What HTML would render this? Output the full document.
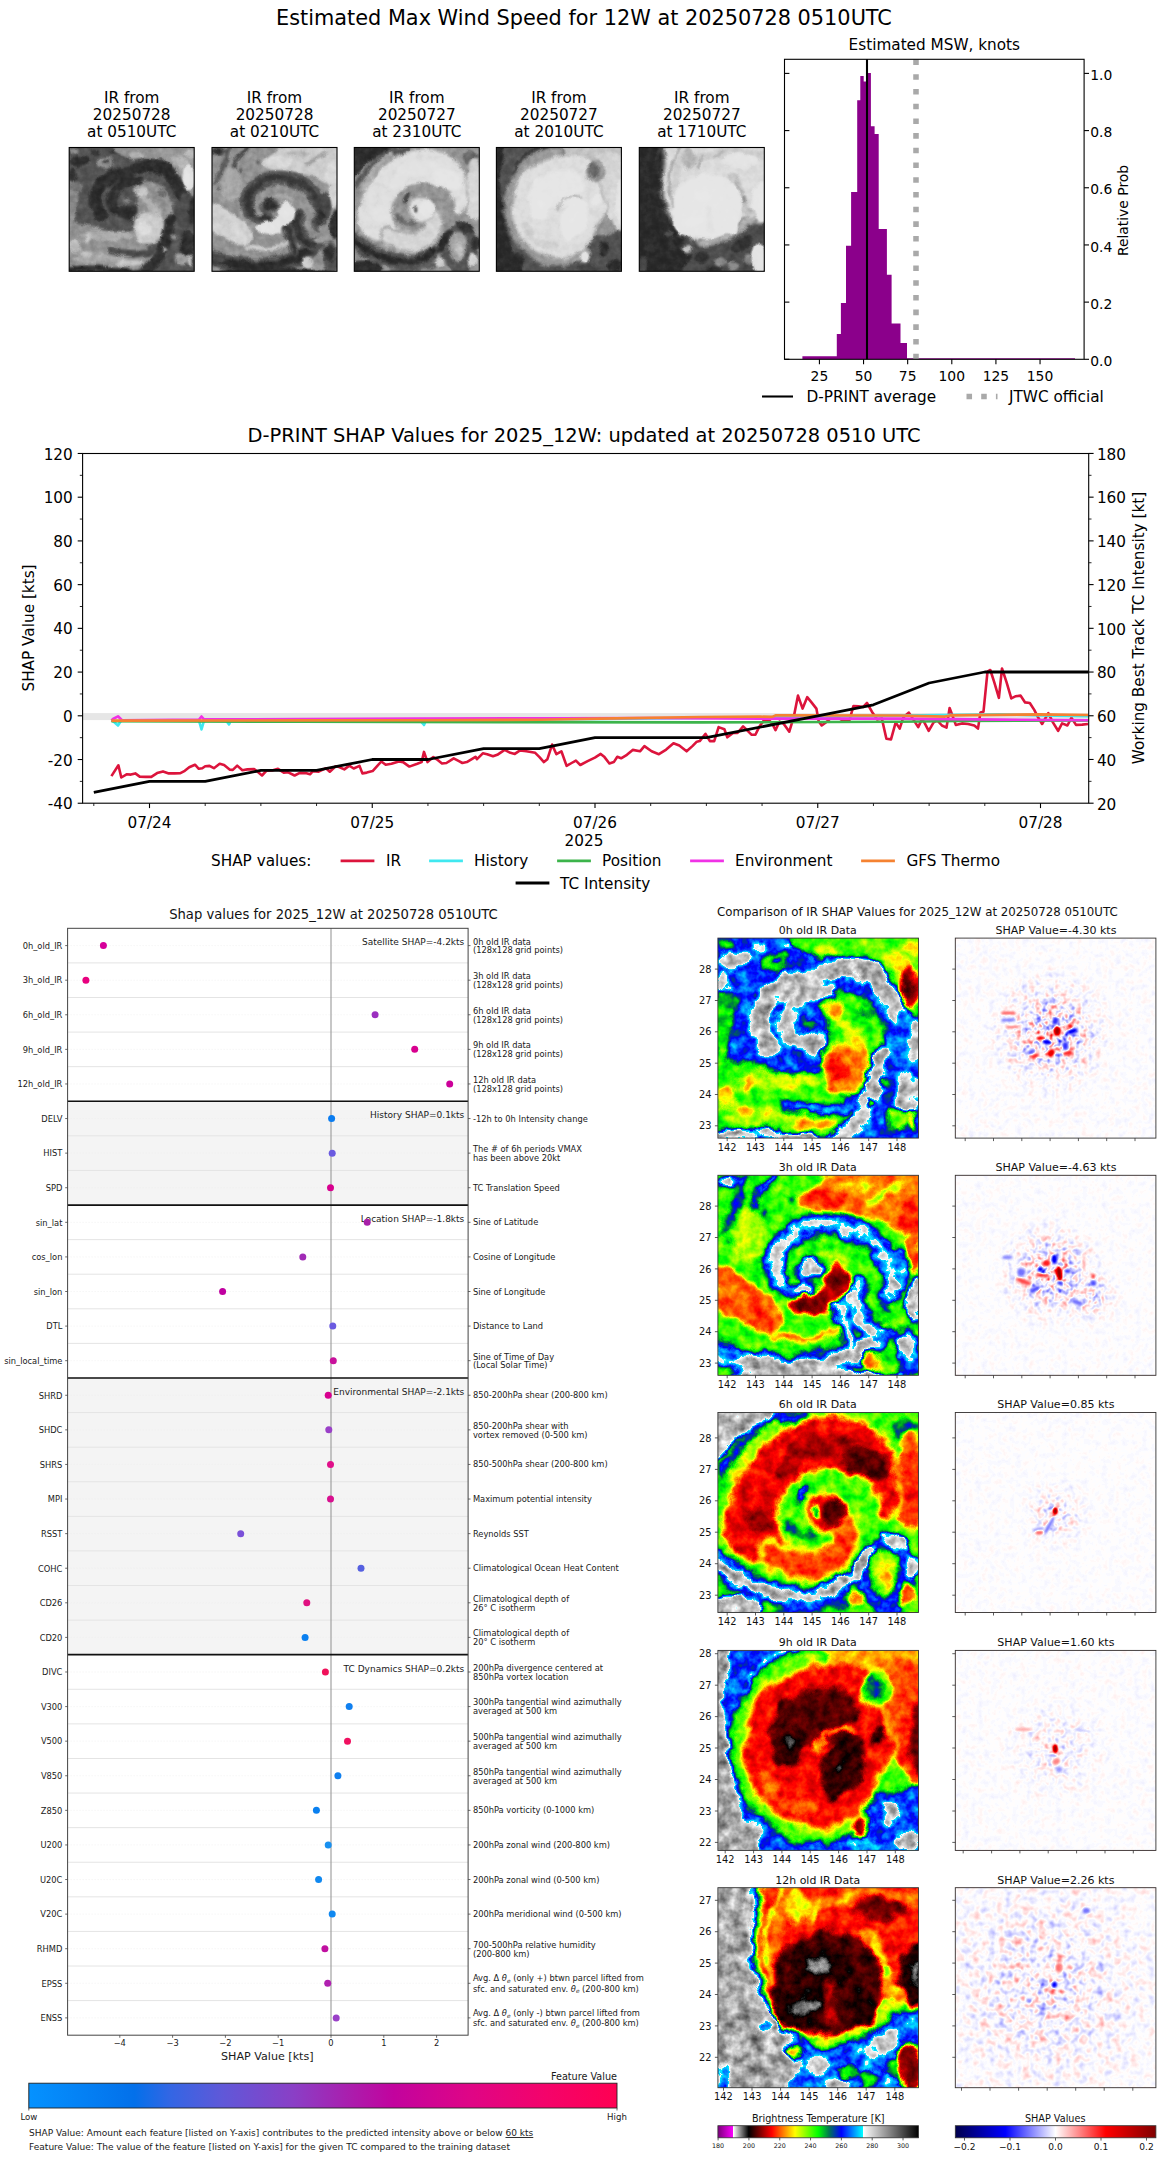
<!DOCTYPE html>
<html lang="en"><head><meta charset="utf-8"><title>D-PRINT 12W</title>
<style>
html,body{margin:0;padding:0;background:#fff}
body{width:1168px;height:2158px;overflow:hidden}
svg{display:block;font-family:"DejaVu Sans","Liberation Sans",sans-serif;fill:#000}
text{white-space:pre}
</style></head><body>
<svg width="1168" height="2158" viewBox="0 0 1168 2158">
<defs>
<clipPath id="c200"><rect x="0" y="0" width="200.6" height="200"/></clipPath>
<filter id="fi0" filterUnits="userSpaceOnUse" x="-12" y="-12" width="226" height="224" color-interpolation-filters="sRGB"><feGaussianBlur in="SourceGraphic" stdDeviation="2.0" result="b"/><feTurbulence type="fractalNoise" baseFrequency="0.05" numOctaves="3" seed="3" result="n"/><feDisplacementMap in="b" in2="n" scale="14" xChannelSelector="R" yChannelSelector="G" result="d"/><feTurbulence type="fractalNoise" baseFrequency="0.09" numOctaves="3" seed="10" result="n2"/><feColorMatrix in="n2" type="matrix" values="0 0 1 0 0 0 0 1 0 0 0 0 1 0 0 0 0 0 0 1" result="ng"/><feComposite in="d" in2="ng" operator="arithmetic" k1="0.27" k2="0.865" k3="0.03" k4="-0.015" result="m"/><feComponentTransfer in="m"><feFuncR type="table" tableValues="0.48 0.533 0.585 0.638 0.69 0.743 0.795 0.848 0.9 0.953 1 0.9 0.8 0.7 0.6 0.5 0.4 0.3 0.2 0.1 0 0.0667 0.133 0.2 0.267 0.333 0.4 0.467 0.533 0.6 0.667 0.733 0.8 0.867 0.933 1 1 1 1 1 1 1 1 1 1 1 1 1 1 1 1 0.923 0.846 0.769 0.692 0.615 0.538 0.462 0.385 0.308 0.231 0.154 0.0769 0 0 0 0 0 0 0 0 0 0 0 0 0 0 0 0 0 0 0 0 0 0 0 0 0 0 0 0 0 0 0 1 0.972 0.944 0.917 0.889 0.861 0.833 0.806 0.778 0.75 0.722 0.694 0.667 0.639 0.611 0.583 0.556 0.528 0.5 0.472 0.444 0.417 0.389 0.361 0.333 0.306 0.278 0.25 0.222 0.194 0.167 0.139 0.111 0.0833 0.0556 0.0278 0"/><feFuncG type="table" tableValues="0 0 0 0 0 0 0 0 0 0 1 0.9 0.8 0.7 0.6 0.5 0.4 0.3 0.2 0.1 0 0 0 0 0 0 0 0 0 0 0 0 0 0 0 0 0.0667 0.133 0.2 0.267 0.333 0.4 0.467 0.533 0.6 0.667 0.733 0.8 0.867 0.933 1 1 1 1 1 1 1 1 1 1 1 1 1 1 0.943 0.886 0.829 0.771 0.714 0.657 0.6 0.525 0.45 0.375 0.3 0.25 0.2 0.15 0.1 0.05 0 0.0719 0.144 0.216 0.288 0.36 0.432 0.504 0.576 0.647 0.719 0.791 0.863 0.935 1 0.972 0.944 0.917 0.889 0.861 0.833 0.806 0.778 0.75 0.722 0.694 0.667 0.639 0.611 0.583 0.556 0.528 0.5 0.472 0.444 0.417 0.389 0.361 0.333 0.306 0.278 0.25 0.222 0.194 0.167 0.139 0.111 0.0833 0.0556 0.0278 0"/><feFuncB type="table" tableValues="0.48 0.533 0.585 0.638 0.69 0.743 0.795 0.848 0.9 0.953 1 0.9 0.8 0.7 0.6 0.5 0.4 0.3 0.2 0.1 0 0 0 0 0 0 0 0 0 0 0 0 0 0 0 0 0 0 0 0 0 0 0 0 0 0 0 0 0 0 0 0 0 0 0 0 0 0 0 0 0 0 0 0 0.0214 0.0429 0.0643 0.0857 0.107 0.129 0.15 0.225 0.3 0.375 0.45 0.542 0.633 0.725 0.817 0.908 1 1 1 1 1 1 1 1 1 1 1 1 1 1 1 0.972 0.944 0.917 0.889 0.861 0.833 0.806 0.778 0.75 0.722 0.694 0.667 0.639 0.611 0.583 0.556 0.528 0.5 0.472 0.444 0.417 0.389 0.361 0.333 0.306 0.278 0.25 0.222 0.194 0.167 0.139 0.111 0.0833 0.0556 0.0278 0"/></feComponentTransfer></filter>
<filter id="fg0" filterUnits="userSpaceOnUse" x="-12" y="-12" width="226" height="224" color-interpolation-filters="sRGB"><feGaussianBlur in="SourceGraphic" stdDeviation="2.0" result="b"/><feTurbulence type="fractalNoise" baseFrequency="0.05" numOctaves="3" seed="3" result="n"/><feDisplacementMap in="b" in2="n" scale="10" xChannelSelector="R" yChannelSelector="G" result="d"/><feTurbulence type="fractalNoise" baseFrequency="0.09" numOctaves="3" seed="10" result="n2"/><feColorMatrix in="n2" type="matrix" values="0 0 1 0 0 0 0 1 0 0 0 0 1 0 0 0 0 0 0 1" result="ng"/><feComposite in="d" in2="ng" operator="arithmetic" k1="0.16" k2="0.92" k3="0.03" k4="-0.015" result="m"/><feComponentTransfer in="m"><feFuncR type="table" tableValues="0.925 0.924 0.922 0.92 0.918 0.915 0.912 0.91 0.907 0.905 0.902 0.895 0.889 0.882 0.869 0.846 0.823 0.798 0.767 0.737 0.706 0.675 0.643 0.612 0.58 0.549 0.518 0.486 0.455 0.429 0.403 0.376 0.35 0.326 0.308 0.29 0.271 0.253 0.235 0.22 0.205 0.19 0.175 0.16 0.152 0.145 0.139 0.132 0.125 0.12 0.114 0.108 0.102"/><feFuncG type="table" tableValues="0.925 0.924 0.922 0.92 0.918 0.915 0.912 0.91 0.907 0.905 0.902 0.895 0.889 0.882 0.869 0.846 0.823 0.798 0.767 0.737 0.706 0.675 0.643 0.612 0.58 0.549 0.518 0.486 0.455 0.429 0.403 0.376 0.35 0.326 0.308 0.29 0.271 0.253 0.235 0.22 0.205 0.19 0.175 0.16 0.152 0.145 0.139 0.132 0.125 0.12 0.114 0.108 0.102"/><feFuncB type="table" tableValues="0.925 0.924 0.922 0.92 0.918 0.915 0.912 0.91 0.907 0.905 0.902 0.895 0.889 0.882 0.869 0.846 0.823 0.798 0.767 0.737 0.706 0.675 0.643 0.612 0.58 0.549 0.518 0.486 0.455 0.429 0.403 0.376 0.35 0.326 0.308 0.29 0.271 0.253 0.235 0.22 0.205 0.19 0.175 0.16 0.152 0.145 0.139 0.132 0.125 0.12 0.114 0.108 0.102"/></feComponentTransfer></filter>
<filter id="fi1" filterUnits="userSpaceOnUse" x="-12" y="-12" width="226" height="224" color-interpolation-filters="sRGB"><feGaussianBlur in="SourceGraphic" stdDeviation="2.0" result="b"/><feTurbulence type="fractalNoise" baseFrequency="0.05" numOctaves="3" seed="8" result="n"/><feDisplacementMap in="b" in2="n" scale="14" xChannelSelector="R" yChannelSelector="G" result="d"/><feTurbulence type="fractalNoise" baseFrequency="0.09" numOctaves="3" seed="15" result="n2"/><feColorMatrix in="n2" type="matrix" values="0 0 1 0 0 0 0 1 0 0 0 0 1 0 0 0 0 0 0 1" result="ng"/><feComposite in="d" in2="ng" operator="arithmetic" k1="0.27" k2="0.865" k3="0.03" k4="-0.015" result="m"/><feComponentTransfer in="m"><feFuncR type="table" tableValues="0.48 0.533 0.585 0.638 0.69 0.743 0.795 0.848 0.9 0.953 1 0.9 0.8 0.7 0.6 0.5 0.4 0.3 0.2 0.1 0 0.0667 0.133 0.2 0.267 0.333 0.4 0.467 0.533 0.6 0.667 0.733 0.8 0.867 0.933 1 1 1 1 1 1 1 1 1 1 1 1 1 1 1 1 0.923 0.846 0.769 0.692 0.615 0.538 0.462 0.385 0.308 0.231 0.154 0.0769 0 0 0 0 0 0 0 0 0 0 0 0 0 0 0 0 0 0 0 0 0 0 0 0 0 0 0 0 0 0 0 1 0.972 0.944 0.917 0.889 0.861 0.833 0.806 0.778 0.75 0.722 0.694 0.667 0.639 0.611 0.583 0.556 0.528 0.5 0.472 0.444 0.417 0.389 0.361 0.333 0.306 0.278 0.25 0.222 0.194 0.167 0.139 0.111 0.0833 0.0556 0.0278 0"/><feFuncG type="table" tableValues="0 0 0 0 0 0 0 0 0 0 1 0.9 0.8 0.7 0.6 0.5 0.4 0.3 0.2 0.1 0 0 0 0 0 0 0 0 0 0 0 0 0 0 0 0 0.0667 0.133 0.2 0.267 0.333 0.4 0.467 0.533 0.6 0.667 0.733 0.8 0.867 0.933 1 1 1 1 1 1 1 1 1 1 1 1 1 1 0.943 0.886 0.829 0.771 0.714 0.657 0.6 0.525 0.45 0.375 0.3 0.25 0.2 0.15 0.1 0.05 0 0.0719 0.144 0.216 0.288 0.36 0.432 0.504 0.576 0.647 0.719 0.791 0.863 0.935 1 0.972 0.944 0.917 0.889 0.861 0.833 0.806 0.778 0.75 0.722 0.694 0.667 0.639 0.611 0.583 0.556 0.528 0.5 0.472 0.444 0.417 0.389 0.361 0.333 0.306 0.278 0.25 0.222 0.194 0.167 0.139 0.111 0.0833 0.0556 0.0278 0"/><feFuncB type="table" tableValues="0.48 0.533 0.585 0.638 0.69 0.743 0.795 0.848 0.9 0.953 1 0.9 0.8 0.7 0.6 0.5 0.4 0.3 0.2 0.1 0 0 0 0 0 0 0 0 0 0 0 0 0 0 0 0 0 0 0 0 0 0 0 0 0 0 0 0 0 0 0 0 0 0 0 0 0 0 0 0 0 0 0 0 0.0214 0.0429 0.0643 0.0857 0.107 0.129 0.15 0.225 0.3 0.375 0.45 0.542 0.633 0.725 0.817 0.908 1 1 1 1 1 1 1 1 1 1 1 1 1 1 1 0.972 0.944 0.917 0.889 0.861 0.833 0.806 0.778 0.75 0.722 0.694 0.667 0.639 0.611 0.583 0.556 0.528 0.5 0.472 0.444 0.417 0.389 0.361 0.333 0.306 0.278 0.25 0.222 0.194 0.167 0.139 0.111 0.0833 0.0556 0.0278 0"/></feComponentTransfer></filter>
<filter id="fg1" filterUnits="userSpaceOnUse" x="-12" y="-12" width="226" height="224" color-interpolation-filters="sRGB"><feGaussianBlur in="SourceGraphic" stdDeviation="2.0" result="b"/><feTurbulence type="fractalNoise" baseFrequency="0.05" numOctaves="3" seed="8" result="n"/><feDisplacementMap in="b" in2="n" scale="10" xChannelSelector="R" yChannelSelector="G" result="d"/><feTurbulence type="fractalNoise" baseFrequency="0.09" numOctaves="3" seed="15" result="n2"/><feColorMatrix in="n2" type="matrix" values="0 0 1 0 0 0 0 1 0 0 0 0 1 0 0 0 0 0 0 1" result="ng"/><feComposite in="d" in2="ng" operator="arithmetic" k1="0.16" k2="0.92" k3="0.03" k4="-0.015" result="m"/><feComponentTransfer in="m"><feFuncR type="table" tableValues="0.925 0.924 0.922 0.92 0.918 0.915 0.912 0.91 0.907 0.905 0.902 0.895 0.889 0.882 0.869 0.846 0.823 0.798 0.767 0.737 0.706 0.675 0.643 0.612 0.58 0.549 0.518 0.486 0.455 0.429 0.403 0.376 0.35 0.326 0.308 0.29 0.271 0.253 0.235 0.22 0.205 0.19 0.175 0.16 0.152 0.145 0.139 0.132 0.125 0.12 0.114 0.108 0.102"/><feFuncG type="table" tableValues="0.925 0.924 0.922 0.92 0.918 0.915 0.912 0.91 0.907 0.905 0.902 0.895 0.889 0.882 0.869 0.846 0.823 0.798 0.767 0.737 0.706 0.675 0.643 0.612 0.58 0.549 0.518 0.486 0.455 0.429 0.403 0.376 0.35 0.326 0.308 0.29 0.271 0.253 0.235 0.22 0.205 0.19 0.175 0.16 0.152 0.145 0.139 0.132 0.125 0.12 0.114 0.108 0.102"/><feFuncB type="table" tableValues="0.925 0.924 0.922 0.92 0.918 0.915 0.912 0.91 0.907 0.905 0.902 0.895 0.889 0.882 0.869 0.846 0.823 0.798 0.767 0.737 0.706 0.675 0.643 0.612 0.58 0.549 0.518 0.486 0.455 0.429 0.403 0.376 0.35 0.326 0.308 0.29 0.271 0.253 0.235 0.22 0.205 0.19 0.175 0.16 0.152 0.145 0.139 0.132 0.125 0.12 0.114 0.108 0.102"/></feComponentTransfer></filter>
<filter id="fi2" filterUnits="userSpaceOnUse" x="-12" y="-12" width="226" height="224" color-interpolation-filters="sRGB"><feGaussianBlur in="SourceGraphic" stdDeviation="2.0" result="b"/><feTurbulence type="fractalNoise" baseFrequency="0.05" numOctaves="3" seed="13" result="n"/><feDisplacementMap in="b" in2="n" scale="14" xChannelSelector="R" yChannelSelector="G" result="d"/><feTurbulence type="fractalNoise" baseFrequency="0.09" numOctaves="3" seed="20" result="n2"/><feColorMatrix in="n2" type="matrix" values="0 0 1 0 0 0 0 1 0 0 0 0 1 0 0 0 0 0 0 1" result="ng"/><feComposite in="d" in2="ng" operator="arithmetic" k1="0.27" k2="0.865" k3="0.03" k4="-0.015" result="m"/><feComponentTransfer in="m"><feFuncR type="table" tableValues="0.48 0.533 0.585 0.638 0.69 0.743 0.795 0.848 0.9 0.953 1 0.9 0.8 0.7 0.6 0.5 0.4 0.3 0.2 0.1 0 0.0667 0.133 0.2 0.267 0.333 0.4 0.467 0.533 0.6 0.667 0.733 0.8 0.867 0.933 1 1 1 1 1 1 1 1 1 1 1 1 1 1 1 1 0.923 0.846 0.769 0.692 0.615 0.538 0.462 0.385 0.308 0.231 0.154 0.0769 0 0 0 0 0 0 0 0 0 0 0 0 0 0 0 0 0 0 0 0 0 0 0 0 0 0 0 0 0 0 0 1 0.972 0.944 0.917 0.889 0.861 0.833 0.806 0.778 0.75 0.722 0.694 0.667 0.639 0.611 0.583 0.556 0.528 0.5 0.472 0.444 0.417 0.389 0.361 0.333 0.306 0.278 0.25 0.222 0.194 0.167 0.139 0.111 0.0833 0.0556 0.0278 0"/><feFuncG type="table" tableValues="0 0 0 0 0 0 0 0 0 0 1 0.9 0.8 0.7 0.6 0.5 0.4 0.3 0.2 0.1 0 0 0 0 0 0 0 0 0 0 0 0 0 0 0 0 0.0667 0.133 0.2 0.267 0.333 0.4 0.467 0.533 0.6 0.667 0.733 0.8 0.867 0.933 1 1 1 1 1 1 1 1 1 1 1 1 1 1 0.943 0.886 0.829 0.771 0.714 0.657 0.6 0.525 0.45 0.375 0.3 0.25 0.2 0.15 0.1 0.05 0 0.0719 0.144 0.216 0.288 0.36 0.432 0.504 0.576 0.647 0.719 0.791 0.863 0.935 1 0.972 0.944 0.917 0.889 0.861 0.833 0.806 0.778 0.75 0.722 0.694 0.667 0.639 0.611 0.583 0.556 0.528 0.5 0.472 0.444 0.417 0.389 0.361 0.333 0.306 0.278 0.25 0.222 0.194 0.167 0.139 0.111 0.0833 0.0556 0.0278 0"/><feFuncB type="table" tableValues="0.48 0.533 0.585 0.638 0.69 0.743 0.795 0.848 0.9 0.953 1 0.9 0.8 0.7 0.6 0.5 0.4 0.3 0.2 0.1 0 0 0 0 0 0 0 0 0 0 0 0 0 0 0 0 0 0 0 0 0 0 0 0 0 0 0 0 0 0 0 0 0 0 0 0 0 0 0 0 0 0 0 0 0.0214 0.0429 0.0643 0.0857 0.107 0.129 0.15 0.225 0.3 0.375 0.45 0.542 0.633 0.725 0.817 0.908 1 1 1 1 1 1 1 1 1 1 1 1 1 1 1 0.972 0.944 0.917 0.889 0.861 0.833 0.806 0.778 0.75 0.722 0.694 0.667 0.639 0.611 0.583 0.556 0.528 0.5 0.472 0.444 0.417 0.389 0.361 0.333 0.306 0.278 0.25 0.222 0.194 0.167 0.139 0.111 0.0833 0.0556 0.0278 0"/></feComponentTransfer></filter>
<filter id="fg2" filterUnits="userSpaceOnUse" x="-12" y="-12" width="226" height="224" color-interpolation-filters="sRGB"><feGaussianBlur in="SourceGraphic" stdDeviation="2.0" result="b"/><feTurbulence type="fractalNoise" baseFrequency="0.05" numOctaves="3" seed="13" result="n"/><feDisplacementMap in="b" in2="n" scale="10" xChannelSelector="R" yChannelSelector="G" result="d"/><feTurbulence type="fractalNoise" baseFrequency="0.09" numOctaves="3" seed="20" result="n2"/><feColorMatrix in="n2" type="matrix" values="0 0 1 0 0 0 0 1 0 0 0 0 1 0 0 0 0 0 0 1" result="ng"/><feComposite in="d" in2="ng" operator="arithmetic" k1="0.16" k2="0.92" k3="0.03" k4="-0.015" result="m"/><feComponentTransfer in="m"><feFuncR type="table" tableValues="0.925 0.924 0.922 0.92 0.918 0.915 0.912 0.91 0.907 0.905 0.902 0.895 0.889 0.882 0.869 0.846 0.823 0.798 0.767 0.737 0.706 0.675 0.643 0.612 0.58 0.549 0.518 0.486 0.455 0.429 0.403 0.376 0.35 0.326 0.308 0.29 0.271 0.253 0.235 0.22 0.205 0.19 0.175 0.16 0.152 0.145 0.139 0.132 0.125 0.12 0.114 0.108 0.102"/><feFuncG type="table" tableValues="0.925 0.924 0.922 0.92 0.918 0.915 0.912 0.91 0.907 0.905 0.902 0.895 0.889 0.882 0.869 0.846 0.823 0.798 0.767 0.737 0.706 0.675 0.643 0.612 0.58 0.549 0.518 0.486 0.455 0.429 0.403 0.376 0.35 0.326 0.308 0.29 0.271 0.253 0.235 0.22 0.205 0.19 0.175 0.16 0.152 0.145 0.139 0.132 0.125 0.12 0.114 0.108 0.102"/><feFuncB type="table" tableValues="0.925 0.924 0.922 0.92 0.918 0.915 0.912 0.91 0.907 0.905 0.902 0.895 0.889 0.882 0.869 0.846 0.823 0.798 0.767 0.737 0.706 0.675 0.643 0.612 0.58 0.549 0.518 0.486 0.455 0.429 0.403 0.376 0.35 0.326 0.308 0.29 0.271 0.253 0.235 0.22 0.205 0.19 0.175 0.16 0.152 0.145 0.139 0.132 0.125 0.12 0.114 0.108 0.102"/></feComponentTransfer></filter>
<filter id="fi3" filterUnits="userSpaceOnUse" x="-12" y="-12" width="226" height="224" color-interpolation-filters="sRGB"><feGaussianBlur in="SourceGraphic" stdDeviation="2.0" result="b"/><feTurbulence type="fractalNoise" baseFrequency="0.05" numOctaves="3" seed="18" result="n"/><feDisplacementMap in="b" in2="n" scale="14" xChannelSelector="R" yChannelSelector="G" result="d"/><feTurbulence type="fractalNoise" baseFrequency="0.09" numOctaves="3" seed="25" result="n2"/><feColorMatrix in="n2" type="matrix" values="0 0 1 0 0 0 0 1 0 0 0 0 1 0 0 0 0 0 0 1" result="ng"/><feComposite in="d" in2="ng" operator="arithmetic" k1="0.27" k2="0.865" k3="0.03" k4="-0.015" result="m"/><feComponentTransfer in="m"><feFuncR type="table" tableValues="0.48 0.533 0.585 0.638 0.69 0.743 0.795 0.848 0.9 0.953 1 0.9 0.8 0.7 0.6 0.5 0.4 0.3 0.2 0.1 0 0.0667 0.133 0.2 0.267 0.333 0.4 0.467 0.533 0.6 0.667 0.733 0.8 0.867 0.933 1 1 1 1 1 1 1 1 1 1 1 1 1 1 1 1 0.923 0.846 0.769 0.692 0.615 0.538 0.462 0.385 0.308 0.231 0.154 0.0769 0 0 0 0 0 0 0 0 0 0 0 0 0 0 0 0 0 0 0 0 0 0 0 0 0 0 0 0 0 0 0 1 0.972 0.944 0.917 0.889 0.861 0.833 0.806 0.778 0.75 0.722 0.694 0.667 0.639 0.611 0.583 0.556 0.528 0.5 0.472 0.444 0.417 0.389 0.361 0.333 0.306 0.278 0.25 0.222 0.194 0.167 0.139 0.111 0.0833 0.0556 0.0278 0"/><feFuncG type="table" tableValues="0 0 0 0 0 0 0 0 0 0 1 0.9 0.8 0.7 0.6 0.5 0.4 0.3 0.2 0.1 0 0 0 0 0 0 0 0 0 0 0 0 0 0 0 0 0.0667 0.133 0.2 0.267 0.333 0.4 0.467 0.533 0.6 0.667 0.733 0.8 0.867 0.933 1 1 1 1 1 1 1 1 1 1 1 1 1 1 0.943 0.886 0.829 0.771 0.714 0.657 0.6 0.525 0.45 0.375 0.3 0.25 0.2 0.15 0.1 0.05 0 0.0719 0.144 0.216 0.288 0.36 0.432 0.504 0.576 0.647 0.719 0.791 0.863 0.935 1 0.972 0.944 0.917 0.889 0.861 0.833 0.806 0.778 0.75 0.722 0.694 0.667 0.639 0.611 0.583 0.556 0.528 0.5 0.472 0.444 0.417 0.389 0.361 0.333 0.306 0.278 0.25 0.222 0.194 0.167 0.139 0.111 0.0833 0.0556 0.0278 0"/><feFuncB type="table" tableValues="0.48 0.533 0.585 0.638 0.69 0.743 0.795 0.848 0.9 0.953 1 0.9 0.8 0.7 0.6 0.5 0.4 0.3 0.2 0.1 0 0 0 0 0 0 0 0 0 0 0 0 0 0 0 0 0 0 0 0 0 0 0 0 0 0 0 0 0 0 0 0 0 0 0 0 0 0 0 0 0 0 0 0 0.0214 0.0429 0.0643 0.0857 0.107 0.129 0.15 0.225 0.3 0.375 0.45 0.542 0.633 0.725 0.817 0.908 1 1 1 1 1 1 1 1 1 1 1 1 1 1 1 0.972 0.944 0.917 0.889 0.861 0.833 0.806 0.778 0.75 0.722 0.694 0.667 0.639 0.611 0.583 0.556 0.528 0.5 0.472 0.444 0.417 0.389 0.361 0.333 0.306 0.278 0.25 0.222 0.194 0.167 0.139 0.111 0.0833 0.0556 0.0278 0"/></feComponentTransfer></filter>
<filter id="fg3" filterUnits="userSpaceOnUse" x="-12" y="-12" width="226" height="224" color-interpolation-filters="sRGB"><feGaussianBlur in="SourceGraphic" stdDeviation="2.0" result="b"/><feTurbulence type="fractalNoise" baseFrequency="0.05" numOctaves="3" seed="18" result="n"/><feDisplacementMap in="b" in2="n" scale="10" xChannelSelector="R" yChannelSelector="G" result="d"/><feTurbulence type="fractalNoise" baseFrequency="0.09" numOctaves="3" seed="25" result="n2"/><feColorMatrix in="n2" type="matrix" values="0 0 1 0 0 0 0 1 0 0 0 0 1 0 0 0 0 0 0 1" result="ng"/><feComposite in="d" in2="ng" operator="arithmetic" k1="0.16" k2="0.92" k3="0.03" k4="-0.015" result="m"/><feComponentTransfer in="m"><feFuncR type="table" tableValues="0.925 0.924 0.922 0.92 0.918 0.915 0.912 0.91 0.907 0.905 0.902 0.895 0.889 0.882 0.869 0.846 0.823 0.798 0.767 0.737 0.706 0.675 0.643 0.612 0.58 0.549 0.518 0.486 0.455 0.429 0.403 0.376 0.35 0.326 0.308 0.29 0.271 0.253 0.235 0.22 0.205 0.19 0.175 0.16 0.152 0.145 0.139 0.132 0.125 0.12 0.114 0.108 0.102"/><feFuncG type="table" tableValues="0.925 0.924 0.922 0.92 0.918 0.915 0.912 0.91 0.907 0.905 0.902 0.895 0.889 0.882 0.869 0.846 0.823 0.798 0.767 0.737 0.706 0.675 0.643 0.612 0.58 0.549 0.518 0.486 0.455 0.429 0.403 0.376 0.35 0.326 0.308 0.29 0.271 0.253 0.235 0.22 0.205 0.19 0.175 0.16 0.152 0.145 0.139 0.132 0.125 0.12 0.114 0.108 0.102"/><feFuncB type="table" tableValues="0.925 0.924 0.922 0.92 0.918 0.915 0.912 0.91 0.907 0.905 0.902 0.895 0.889 0.882 0.869 0.846 0.823 0.798 0.767 0.737 0.706 0.675 0.643 0.612 0.58 0.549 0.518 0.486 0.455 0.429 0.403 0.376 0.35 0.326 0.308 0.29 0.271 0.253 0.235 0.22 0.205 0.19 0.175 0.16 0.152 0.145 0.139 0.132 0.125 0.12 0.114 0.108 0.102"/></feComponentTransfer></filter>
<filter id="fi4" filterUnits="userSpaceOnUse" x="-12" y="-12" width="226" height="224" color-interpolation-filters="sRGB"><feGaussianBlur in="SourceGraphic" stdDeviation="2.0" result="b"/><feTurbulence type="fractalNoise" baseFrequency="0.05" numOctaves="3" seed="23" result="n"/><feDisplacementMap in="b" in2="n" scale="14" xChannelSelector="R" yChannelSelector="G" result="d"/><feTurbulence type="fractalNoise" baseFrequency="0.09" numOctaves="3" seed="30" result="n2"/><feColorMatrix in="n2" type="matrix" values="0 0 1 0 0 0 0 1 0 0 0 0 1 0 0 0 0 0 0 1" result="ng"/><feComposite in="d" in2="ng" operator="arithmetic" k1="0.27" k2="0.865" k3="0.03" k4="-0.015" result="m"/><feComponentTransfer in="m"><feFuncR type="table" tableValues="0.48 0.533 0.585 0.638 0.69 0.743 0.795 0.848 0.9 0.953 1 0.9 0.8 0.7 0.6 0.5 0.4 0.3 0.2 0.1 0 0.0667 0.133 0.2 0.267 0.333 0.4 0.467 0.533 0.6 0.667 0.733 0.8 0.867 0.933 1 1 1 1 1 1 1 1 1 1 1 1 1 1 1 1 0.923 0.846 0.769 0.692 0.615 0.538 0.462 0.385 0.308 0.231 0.154 0.0769 0 0 0 0 0 0 0 0 0 0 0 0 0 0 0 0 0 0 0 0 0 0 0 0 0 0 0 0 0 0 0 1 0.972 0.944 0.917 0.889 0.861 0.833 0.806 0.778 0.75 0.722 0.694 0.667 0.639 0.611 0.583 0.556 0.528 0.5 0.472 0.444 0.417 0.389 0.361 0.333 0.306 0.278 0.25 0.222 0.194 0.167 0.139 0.111 0.0833 0.0556 0.0278 0"/><feFuncG type="table" tableValues="0 0 0 0 0 0 0 0 0 0 1 0.9 0.8 0.7 0.6 0.5 0.4 0.3 0.2 0.1 0 0 0 0 0 0 0 0 0 0 0 0 0 0 0 0 0.0667 0.133 0.2 0.267 0.333 0.4 0.467 0.533 0.6 0.667 0.733 0.8 0.867 0.933 1 1 1 1 1 1 1 1 1 1 1 1 1 1 0.943 0.886 0.829 0.771 0.714 0.657 0.6 0.525 0.45 0.375 0.3 0.25 0.2 0.15 0.1 0.05 0 0.0719 0.144 0.216 0.288 0.36 0.432 0.504 0.576 0.647 0.719 0.791 0.863 0.935 1 0.972 0.944 0.917 0.889 0.861 0.833 0.806 0.778 0.75 0.722 0.694 0.667 0.639 0.611 0.583 0.556 0.528 0.5 0.472 0.444 0.417 0.389 0.361 0.333 0.306 0.278 0.25 0.222 0.194 0.167 0.139 0.111 0.0833 0.0556 0.0278 0"/><feFuncB type="table" tableValues="0.48 0.533 0.585 0.638 0.69 0.743 0.795 0.848 0.9 0.953 1 0.9 0.8 0.7 0.6 0.5 0.4 0.3 0.2 0.1 0 0 0 0 0 0 0 0 0 0 0 0 0 0 0 0 0 0 0 0 0 0 0 0 0 0 0 0 0 0 0 0 0 0 0 0 0 0 0 0 0 0 0 0 0.0214 0.0429 0.0643 0.0857 0.107 0.129 0.15 0.225 0.3 0.375 0.45 0.542 0.633 0.725 0.817 0.908 1 1 1 1 1 1 1 1 1 1 1 1 1 1 1 0.972 0.944 0.917 0.889 0.861 0.833 0.806 0.778 0.75 0.722 0.694 0.667 0.639 0.611 0.583 0.556 0.528 0.5 0.472 0.444 0.417 0.389 0.361 0.333 0.306 0.278 0.25 0.222 0.194 0.167 0.139 0.111 0.0833 0.0556 0.0278 0"/></feComponentTransfer></filter>
<filter id="fg4" filterUnits="userSpaceOnUse" x="-12" y="-12" width="226" height="224" color-interpolation-filters="sRGB"><feGaussianBlur in="SourceGraphic" stdDeviation="2.0" result="b"/><feTurbulence type="fractalNoise" baseFrequency="0.05" numOctaves="3" seed="23" result="n"/><feDisplacementMap in="b" in2="n" scale="10" xChannelSelector="R" yChannelSelector="G" result="d"/><feTurbulence type="fractalNoise" baseFrequency="0.09" numOctaves="3" seed="30" result="n2"/><feColorMatrix in="n2" type="matrix" values="0 0 1 0 0 0 0 1 0 0 0 0 1 0 0 0 0 0 0 1" result="ng"/><feComposite in="d" in2="ng" operator="arithmetic" k1="0.16" k2="0.92" k3="0.03" k4="-0.015" result="m"/><feComponentTransfer in="m"><feFuncR type="table" tableValues="0.925 0.924 0.922 0.92 0.918 0.915 0.912 0.91 0.907 0.905 0.902 0.895 0.889 0.882 0.869 0.846 0.823 0.798 0.767 0.737 0.706 0.675 0.643 0.612 0.58 0.549 0.518 0.486 0.455 0.429 0.403 0.376 0.35 0.326 0.308 0.29 0.271 0.253 0.235 0.22 0.205 0.19 0.175 0.16 0.152 0.145 0.139 0.132 0.125 0.12 0.114 0.108 0.102"/><feFuncG type="table" tableValues="0.925 0.924 0.922 0.92 0.918 0.915 0.912 0.91 0.907 0.905 0.902 0.895 0.889 0.882 0.869 0.846 0.823 0.798 0.767 0.737 0.706 0.675 0.643 0.612 0.58 0.549 0.518 0.486 0.455 0.429 0.403 0.376 0.35 0.326 0.308 0.29 0.271 0.253 0.235 0.22 0.205 0.19 0.175 0.16 0.152 0.145 0.139 0.132 0.125 0.12 0.114 0.108 0.102"/><feFuncB type="table" tableValues="0.925 0.924 0.922 0.92 0.918 0.915 0.912 0.91 0.907 0.905 0.902 0.895 0.889 0.882 0.869 0.846 0.823 0.798 0.767 0.737 0.706 0.675 0.643 0.612 0.58 0.549 0.518 0.486 0.455 0.429 0.403 0.376 0.35 0.326 0.308 0.29 0.271 0.253 0.235 0.22 0.205 0.19 0.175 0.16 0.152 0.145 0.139 0.132 0.125 0.12 0.114 0.108 0.102"/></feComponentTransfer></filter>
<g id="f0"><rect x="-30" y="-30" width="260" height="260" fill="#a1a1a1"/><ellipse cx="3.4" cy="89.0" rx="9.4" ry="34.2" fill="#7c7c7c"/><ellipse cx="12.0" cy="65.1" rx="10.3" ry="8.6" fill="#8b8b8b"/><ellipse cx="17.1" cy="22.3" rx="14.6" ry="8.6" fill="#cacaca"/><ellipse cx="6.0" cy="45.4" rx="6.0" ry="11.1" fill="#cacaca"/><ellipse cx="42.0" cy="6.0" rx="7.7" ry="4.3" fill="#c2c2c2"/><ellipse cx="71.9" cy="6.8" rx="6.8" ry="3.4" fill="#c0c0c0"/><ellipse cx="58.2" cy="25.7" rx="14.6" ry="10.6" fill="#7a7a7a"/><ellipse cx="59.9" cy="24.0" rx="6.8" ry="4.1" fill="#a1a1a1"/><ellipse cx="6.8" cy="5.1" rx="6.8" ry="5.1" fill="#7e7e7e"/><path d="M73.6,-3.4C85.0,-6.3 141.1,-5.7 154.1,-3.4C167.1,-1.1 154.4,6.5 151.5,10.3C148.7,14.0 142.3,18.3 137.0,19.2C131.7,20.1 125.6,15.8 119.9,15.8C114.2,15.8 108.4,19.5 102.7,19.2C97.0,18.9 90.5,17.8 85.6,14.0C80.8,10.3 62.2,-0.5 73.6,-3.4Z" fill="#767676"/><ellipse cx="107.9" cy="12.0" rx="12.8" ry="5.1" fill="#646464"/><path d="M149.0,-3.4C157.1,-7.8 194.6,-16.3 203.8,-3.4C212.9,9.4 206.3,62.1 203.8,73.6C201.2,85.2 193.8,70.9 188.4,65.9C182.9,60.9 176.8,50.8 171.2,43.7C165.7,36.5 158.7,31.0 155.0,23.1C151.3,15.3 140.8,1.0 149.0,-3.4Z" fill="#727272"/><ellipse cx="193.5" cy="10.3" rx="7.7" ry="7.7" fill="#5c5c5c"/><ellipse cx="171.2" cy="20.5" rx="10.3" ry="6.8" fill="#666666" transform="rotate(40 171.2 20.5)"/><ellipse cx="160.1" cy="32.5" rx="3.1" ry="5.1" fill="#4c4c4c" transform="rotate(-40 160.1 32.5)"/><ellipse cx="192.1" cy="47.9" rx="10.3" ry="19.7" fill="#3d3d3d"/><ellipse cx="189.7" cy="49.7" rx="4.5" ry="10.3" fill="#2f2f2f"/><ellipse cx="181.5" cy="25.7" rx="8.6" ry="10.3" fill="#606060"/><path d="M-3.4,118.2C0.0,106.3 9.4,121.3 17.1,123.3C24.8,125.3 33.1,128.1 42.8,130.1C52.5,132.2 65.4,136.0 75.3,135.6C85.3,135.2 97.9,139.3 102.7,127.6C107.6,115.8 101.9,76.8 104.5,65.1C107.0,53.4 112.4,58.6 118.2,57.4C123.9,56.1 132.6,55.5 138.7,57.4C144.8,59.2 150.6,63.2 155.0,68.5C159.3,73.8 162.4,82.2 164.7,89.0C167.0,95.9 169.4,102.6 168.7,109.6C167.9,116.6 163.5,124.0 160.1,131.0C156.7,138.0 154.3,146.7 148.1,151.5C142.0,156.4 126.3,156.8 123.3,160.1C120.3,163.4 128.4,165.5 130.1,171.2C131.8,176.9 155.8,190.5 133.6,194.3C111.3,198.2 19.4,207.0 -3.4,194.3C-26.3,181.6 -6.8,130.0 -3.4,118.2Z" fill="#767676"/><ellipse cx="59.9" cy="142.1" rx="44.5" ry="7.2" fill="#666666"/><ellipse cx="30.0" cy="145.5" rx="4.3" ry="9.4" fill="#5a5a5a" transform="rotate(20 30.0 145.5)"/><ellipse cx="8.6" cy="161.0" rx="9.4" ry="10.3" fill="#5c5c5c"/><ellipse cx="51.4" cy="179.8" rx="42.8" ry="6.8" fill="#686868"/><ellipse cx="98.5" cy="186.6" rx="22.3" ry="4.8" fill="#585858"/><ellipse cx="27.4" cy="171.2" rx="10.3" ry="5.1" fill="#5e5e5e"/><ellipse cx="118.2" cy="71.9" rx="10.6" ry="8.6" fill="#565656"/><path d="M119.9,82.2 L142.1,104.5" fill="none" stroke="#646464" stroke-width="10.3" stroke-linecap="round" stroke-linejoin="round"/><ellipse cx="127.1" cy="128.8" rx="24.0" ry="26.0" fill="#545454" transform="rotate(15 127.1 128.8)"/><ellipse cx="119.9" cy="131.0" rx="12.3" ry="10.6" fill="#454545"/><ellipse cx="149.0" cy="73.6" rx="4.8" ry="6.5" fill="#979797"/><ellipse cx="165.2" cy="85.6" rx="5.1" ry="3.1" fill="#999999"/><ellipse cx="169.5" cy="99.3" rx="4.8" ry="3.1" fill="#999999"/><path d="M66.8,165.2C69.9,166.2 76.8,170.2 85.6,171.2C94.5,172.2 108.3,172.9 119.9,171.2C131.4,169.5 149.1,162.7 155.0,161.0" fill="none" stroke="#a7a7a7" stroke-width="9.9" stroke-linecap="round" stroke-linejoin="round"/><path d="M51.4,109.6C49.9,105.0 42.8,90.5 42.8,82.2C42.8,73.9 45.7,66.2 51.4,59.9C57.1,53.7 68.5,48.4 77.1,44.5C85.6,40.7 94.2,39.2 102.7,36.8C111.3,34.4 120.4,30.5 128.4,30.0C136.4,29.4 144.1,30.1 150.7,33.4C157.2,36.7 163.2,43.2 167.8,49.7C172.4,56.1 174.7,65.4 178.1,71.9C181.5,78.5 185.2,82.8 188.4,89.0C191.5,95.3 195.5,106.2 196.9,109.6" fill="none" stroke="#cacaca" stroke-width="20.9" stroke-linecap="round" stroke-linejoin="round"/><path d="M95.9,109.6C92.8,108.4 81.8,106.7 77.1,102.7C72.3,98.7 67.9,91.3 67.6,85.6C67.4,79.9 71.2,73.3 75.3,68.5C79.5,63.6 86.5,59.4 92.5,56.5C98.5,53.7 108.2,52.2 111.3,51.4" fill="none" stroke="#cacaca" stroke-width="17.8" stroke-linecap="round" stroke-linejoin="round"/><ellipse cx="95.0" cy="101.0" rx="14.6" ry="12.0" fill="#cacaca"/><path d="M51.4,102.7C50.5,99.0 45.7,87.0 46.2,80.5C46.8,73.9 53.4,66.2 54.8,63.4" fill="none" stroke="#d6d6d6" stroke-width="6.8" stroke-linecap="round" stroke-linejoin="round"/><path d="M119.9,34.2C124.4,34.7 139.8,34.0 147.3,36.8C154.7,39.7 161.5,48.9 164.4,51.4" fill="none" stroke="#d4d4d4" stroke-width="6.8" stroke-linecap="round" stroke-linejoin="round"/><path d="M59.1,104.5C58.1,100.7 52.9,88.8 53.1,82.2C53.2,75.6 55.9,69.6 59.9,65.1C63.9,60.5 74.2,56.5 77.1,54.8" fill="none" stroke="#a9a9a9" stroke-width="2.1" stroke-linecap="round" stroke-linejoin="round"/><path d="M73.6,95.9C73.3,93.3 70.8,85.0 71.9,80.5C73.1,75.9 79.1,70.5 80.5,68.5" fill="none" stroke="#adadad" stroke-width="1.7" stroke-linecap="round" stroke-linejoin="round"/><ellipse cx="95.9" cy="83.9" rx="12.8" ry="11.1" fill="#a1a1a1"/><ellipse cx="92.5" cy="85.6" rx="5.1" ry="4.3" fill="#818181"/><path d="M106.2,45.9C109.0,45.7 118.2,44.1 123.3,44.9C128.4,45.7 133.3,48.5 137.0,50.7C140.7,52.9 144.1,57.0 145.5,58.2" fill="none" stroke="#9f9f9f" stroke-width="5.1" stroke-linecap="round" stroke-linejoin="round"/><path d="M-3.4,196.9C2.9,196.6 22.8,195.2 34.2,195.2C45.7,195.2 54.8,196.1 65.1,196.9C75.3,197.7 90.8,199.5 95.9,200.0" fill="none" stroke="#cecece" stroke-width="8.6" stroke-linecap="round" stroke-linejoin="round"/><ellipse cx="186.6" cy="102.7" rx="15.4" ry="29.1" fill="#a9a9a9"/><ellipse cx="197.3" cy="102.7" rx="5.1" ry="22.3" fill="#cacaca"/><path d="M162.7,116.4C162.1,119.9 160.7,130.7 159.2,137.0C157.8,143.3 156.4,148.1 154.1,154.1C151.8,160.1 149.5,166.7 145.5,172.9C141.6,179.2 134.7,186.6 130.1,191.8C125.6,196.9 120.1,201.8 118.2,203.8" fill="none" stroke="#cacaca" stroke-width="17.1" stroke-linecap="round" stroke-linejoin="round"/><ellipse cx="190.1" cy="155.8" rx="11.1" ry="21.4" fill="#cacaca"/><ellipse cx="167.8" cy="144.7" rx="5.5" ry="4.3" fill="#767676"/><ellipse cx="153.3" cy="164.4" rx="4.5" ry="5.1" fill="#727272"/><ellipse cx="179.8" cy="180.7" rx="8.9" ry="7.9" fill="#6e6e6e"/><ellipse cx="192.6" cy="183.2" rx="4.3" ry="7.2" fill="#585858"/><ellipse cx="174.7" cy="195.2" rx="15.4" ry="6.0" fill="#a1a1a1"/></g>
<g id="ir0" clip-path="url(#c200)"><use href="#f0" filter="url(#fi0)"/></g>
<g id="th0"><g transform="scale(0.6232,0.619)" clip-path="url(#c200)"><use href="#f0" filter="url(#fg0)"/></g></g>
<g id="f1"><rect x="-30" y="-30" width="260" height="260" fill="#767676"/><ellipse cx="10.3" cy="6.8" rx="12.0" ry="6.8" fill="#a9a9a9"/><ellipse cx="9.4" cy="6.5" rx="8.6" ry="4.5" fill="#cacaca"/><path d="M29.1,0.0C27.7,4.3 24.5,16.3 20.5,25.7C16.6,35.1 7.7,51.4 5.1,56.5" fill="none" stroke="#999999" stroke-width="7.7" stroke-linecap="round" stroke-linejoin="round"/><path d="M56.5,0.0C53.4,3.7 41.4,16.6 37.7,22.3C34.0,28.0 34.8,32.2 34.2,34.2" fill="none" stroke="#999999" stroke-width="7.2" stroke-linecap="round" stroke-linejoin="round"/><path d="M56.5,0.0C53.4,3.7 41.4,16.6 37.7,22.3C34.0,28.0 34.8,32.2 34.2,34.2" fill="none" stroke="#b8b8b8" stroke-width="2.1" stroke-linecap="round" stroke-linejoin="round"/><ellipse cx="73.6" cy="23.1" rx="2.7" ry="3.1" fill="#999999"/><ellipse cx="43.7" cy="36.8" rx="2.7" ry="3.4" fill="#999999"/><ellipse cx="11.1" cy="66.8" rx="2.4" ry="3.8" fill="#999999"/><ellipse cx="30.8" cy="59.9" rx="17.1" ry="27.4" fill="#6a6a6a"/><path d="M80.5,22.3C81.6,18.3 89.3,14.6 95.9,10.3C102.5,6.0 101.9,-1.1 119.9,-3.4C137.8,-5.7 189.8,-15.4 203.8,-3.4C217.8,8.6 206.9,58.2 203.8,68.5C200.6,78.8 193.2,62.2 184.9,58.2C176.7,54.2 165.0,47.7 154.1,44.5C143.3,41.4 130.7,41.1 119.9,39.4C109.0,37.7 95.6,37.1 89.0,34.2C82.5,31.4 79.3,26.3 80.5,22.3Z" fill="#525252"/><ellipse cx="106.2" cy="22.3" rx="20.5" ry="9.4" fill="#494949"/><ellipse cx="193.5" cy="42.8" rx="10.3" ry="22.3" fill="#494949"/><ellipse cx="137.0" cy="8.6" rx="18.8" ry="5.1" fill="#626262"/><path d="M154.1,25.7 L181.5,10.3" fill="none" stroke="#6e6e6e" stroke-width="6.0" stroke-linecap="round" stroke-linejoin="round"/><ellipse cx="195.2" cy="77.1" rx="8.6" ry="20.5" fill="#4c4c4c"/><path d="M-3.4,92.5C0.6,87.3 12.0,95.3 20.5,99.3C29.1,103.3 40.8,110.2 47.9,116.4C55.1,122.7 61.4,130.7 63.4,137.0C65.4,143.3 64.8,151.3 59.9,154.1C55.1,157.0 42.5,156.4 34.2,154.1C26.0,151.8 16.6,144.4 10.3,140.4C4.0,136.4 -1.1,138.1 -3.4,130.1C-5.7,122.1 -7.4,97.6 -3.4,92.5Z" fill="#505050"/><ellipse cx="39.4" cy="137.0" rx="18.8" ry="8.6" fill="#4b4b4b" transform="rotate(40 39.4 137.0)"/><path d="M56.5,161.0C61.4,161.6 76.8,164.7 85.6,164.7C94.5,164.7 103.3,163.3 109.6,161.0C115.9,158.6 121.0,152.4 123.3,150.7" fill="none" stroke="#565656" stroke-width="7.7" stroke-linecap="round" stroke-linejoin="round"/><path d="M-3.4,178.1C1.4,179.4 15.1,183.5 25.7,185.8C36.2,188.1 47.7,191.1 59.9,191.8C72.2,192.5 85.9,192.6 99.3,190.1C112.7,187.5 129.0,181.8 140.4,176.4C151.8,170.9 163.2,160.7 167.8,157.5" fill="none" stroke="#a5a5a5" stroke-width="25.7" stroke-linecap="round" stroke-linejoin="round"/><path d="M-3.4,178.1C1.4,179.4 15.1,183.5 25.7,185.8C36.2,188.1 47.7,191.1 59.9,191.8C72.2,192.5 85.9,192.6 99.3,190.1C112.7,187.5 129.0,181.8 140.4,176.4C151.8,170.9 163.2,160.7 167.8,157.5" fill="none" stroke="#d0d0d0" stroke-width="13.4" stroke-linecap="round" stroke-linejoin="round"/><ellipse cx="99.3" cy="202.1" rx="85.6" ry="7.7" fill="#cccccc"/><ellipse cx="10.3" cy="179.8" rx="12.0" ry="7.7" fill="#adadad"/><path d="M89.0,115.1C85.0,113.6 70.5,111.1 65.1,106.2C59.6,101.3 55.9,92.8 56.5,85.6C57.1,78.5 61.9,69.3 68.5,63.4C75.1,57.4 86.2,51.7 95.9,49.7C105.6,47.7 117.6,49.1 126.7,51.4C135.8,53.7 143.8,58.5 150.7,63.4C157.5,68.2 163.5,73.9 167.8,80.5C172.1,87.0 175.8,95.6 176.4,102.7C176.9,109.9 172.1,119.9 171.2,123.3" fill="none" stroke="#a1a1a1" stroke-width="23.1" stroke-linecap="round" stroke-linejoin="round"/><path d="M89.0,115.1C85.0,113.6 70.5,111.1 65.1,106.2C59.6,101.3 55.9,92.8 56.5,85.6C57.1,78.5 61.9,69.3 68.5,63.4C75.1,57.4 86.2,51.7 95.9,49.7C105.6,47.7 117.6,49.1 126.7,51.4C135.8,53.7 143.8,58.5 150.7,63.4C157.5,68.2 163.5,73.9 167.8,80.5C172.1,87.0 175.8,95.6 176.4,102.7C176.9,109.9 172.1,119.9 171.2,123.3" fill="none" stroke="#c0c0c0" stroke-width="9.6" stroke-linecap="round" stroke-linejoin="round"/><path d="M75.3,106.5C75.1,103.6 71.6,94.5 73.6,89.0C75.6,83.6 81.1,76.8 87.3,74.0C93.6,71.1 103.6,70.5 111.3,71.9C119.0,73.3 127.9,78.2 133.6,82.2C139.3,86.2 143.6,93.6 145.5,95.9" fill="none" stroke="#767676" stroke-width="11.3" stroke-linecap="round" stroke-linejoin="round"/><path d="M102.7,75.7 L126.7,80.8" fill="none" stroke="#666666" stroke-width="4.3" stroke-linecap="round" stroke-linejoin="round"/><ellipse cx="93.3" cy="93.3" rx="13.4" ry="12.3" fill="#a9a9a9"/><ellipse cx="92.5" cy="92.5" rx="8.6" ry="8.2" fill="#cecece"/><path d="M77.1,95.9C77.9,97.7 79.1,104.2 82.2,106.5C85.3,108.8 93.6,109.4 95.9,109.9" fill="none" stroke="#a1a1a1" stroke-width="3.8" stroke-linecap="round" stroke-linejoin="round"/><path d="M137.0,109.6C136.7,113.0 133.6,123.6 135.3,130.1C137.0,136.7 142.4,144.1 147.3,149.0C152.1,153.8 161.5,157.5 164.4,159.2" fill="none" stroke="#a5a5a5" stroke-width="21.4" stroke-linecap="round" stroke-linejoin="round"/><path d="M137.0,109.6C136.7,113.0 133.6,123.6 135.3,130.1C137.0,136.7 142.4,144.1 147.3,149.0C152.1,153.8 161.5,157.5 164.4,159.2" fill="none" stroke="#c6c6c6" stroke-width="8.9" stroke-linecap="round" stroke-linejoin="round"/><path d="M119.9,127.1C121.0,130.4 124.7,139.9 126.7,147.3C128.7,154.6 131.0,167.2 131.8,171.2" fill="none" stroke="#a9a9a9" stroke-width="13.7" stroke-linecap="round" stroke-linejoin="round"/><path d="M119.9,127.1C121.0,130.4 124.7,139.9 126.7,147.3C128.7,154.6 131.0,167.2 131.8,171.2" fill="none" stroke="#c4c4c4" stroke-width="5.1" stroke-linecap="round" stroke-linejoin="round"/><ellipse cx="178.1" cy="95.9" rx="12.0" ry="22.3" fill="#adadad"/><ellipse cx="174.7" cy="109.6" rx="6.0" ry="10.3" fill="#cccccc"/><ellipse cx="179.8" cy="130.1" rx="9.4" ry="7.7" fill="#767676"/><ellipse cx="172.9" cy="150.7" rx="7.7" ry="6.0" fill="#6e6e6e"/><ellipse cx="153.3" cy="185.8" rx="8.9" ry="10.6" fill="#525252"/><ellipse cx="197.3" cy="125.0" rx="6.0" ry="24.0" fill="#cccccc"/><ellipse cx="190.1" cy="178.1" rx="12.0" ry="25.7" fill="#a5a5a5"/><ellipse cx="188.4" cy="171.2" rx="6.5" ry="13.7" fill="#c8c8c8"/><path d="M71.1,126.7C72.8,124.1 80.1,122.1 85.6,119.9C91.2,117.6 100.2,117.9 104.5,113.0C108.7,108.2 108.2,95.0 111.3,90.8C114.4,86.5 119.7,85.3 123.3,87.3C126.9,89.3 131.6,97.3 132.7,102.7C133.8,108.2 133.3,115.7 130.1,119.9C127.0,124.0 117.3,124.7 113.9,127.6C110.4,130.4 113.7,134.8 109.6,137.0C105.5,139.2 94.7,141.0 89.0,140.8C83.3,140.5 78.3,137.6 75.3,135.3C72.3,132.9 69.3,129.3 71.1,126.7Z" fill="#3b3b3b"/><ellipse cx="89.0" cy="128.8" rx="12.3" ry="6.8" fill="#313131"/><ellipse cx="119.9" cy="102.7" rx="6.8" ry="10.3" fill="#353535"/></g>
<g id="ir1" clip-path="url(#c200)"><use href="#f1" filter="url(#fi1)"/></g>
<g id="th1"><g transform="scale(0.6232,0.619)" clip-path="url(#c200)"><use href="#f1" filter="url(#fg1)"/></g></g>
<g id="f2"><rect x="-30" y="-30" width="260" height="260" fill="#767676"/><path d="M-3.4,-3.4C7.1,-12.0 55.7,-8.0 59.9,-3.4C64.2,1.1 32.8,15.4 22.3,24.0C11.7,32.5 0.9,52.5 -3.4,47.9C-7.7,43.4 -14.0,5.1 -3.4,-3.4Z" fill="#cecece"/><path d="M65.1,0.0C59.1,4.6 39.1,17.1 29.1,27.4C19.1,37.7 9.1,55.9 5.1,61.6" fill="none" stroke="#9d9d9d" stroke-width="8.6" stroke-linecap="round" stroke-linejoin="round"/><path d="M85.6,0.0 L56.5,12.0" fill="none" stroke="#a1a1a1" stroke-width="7.7" stroke-linecap="round" stroke-linejoin="round"/><path d="M59.9,10.3C54.8,14.8 36.5,27.4 29.1,37.7C21.7,47.9 17.7,66.2 15.4,71.9" fill="none" stroke="#686868" stroke-width="8.6" stroke-linecap="round" stroke-linejoin="round"/><ellipse cx="193.5" cy="75.3" rx="14.6" ry="42.0" fill="#494949"/><ellipse cx="184.9" cy="15.4" rx="12.0" ry="12.0" fill="#919191"/><ellipse cx="193.5" cy="30.8" rx="8.6" ry="13.7" fill="#525252"/><path d="M-3.4,147.3C1.7,151.0 15.4,163.5 27.4,169.5C39.4,175.5 54.8,181.4 68.5,183.2C82.2,185.1 100.0,183.6 109.6,180.7C119.1,177.7 123.1,167.8 125.9,165.2" fill="none" stroke="#a1a1a1" stroke-width="24.0" stroke-linecap="round" stroke-linejoin="round"/><path d="M-3.4,147.3C1.7,151.0 15.4,163.5 27.4,169.5C39.4,175.5 54.8,181.4 68.5,183.2C82.2,185.1 100.0,183.6 109.6,180.7C119.1,177.7 123.1,167.8 125.9,165.2" fill="none" stroke="#d0d0d0" stroke-width="10.3" stroke-linecap="round" stroke-linejoin="round"/><ellipse cx="15.4" cy="195.2" rx="30.0" ry="12.0" fill="#cecece"/><path d="M59.9,199.5C66.5,199.1 87.6,198.8 99.3,196.9C111.0,195.1 125.0,189.8 130.1,188.4" fill="none" stroke="#999999" stroke-width="7.7" stroke-linecap="round" stroke-linejoin="round"/><ellipse cx="169.5" cy="164.4" rx="30.0" ry="40.2" fill="#a1a1a1"/><ellipse cx="145.5" cy="150.7" rx="7.7" ry="21.4" fill="#cecece" transform="rotate(30 145.5 150.7)"/><ellipse cx="179.8" cy="130.1" rx="17.1" ry="7.2" fill="#c0c0c0" transform="rotate(30 179.8 130.1)"/><ellipse cx="166.1" cy="159.2" rx="13.7" ry="24.8" fill="#6e6e6e"/><ellipse cx="167.8" cy="164.4" rx="6.8" ry="10.3" fill="#5a5a5a"/><ellipse cx="137.0" cy="184.9" rx="6.0" ry="6.8" fill="#4e4e4e"/><ellipse cx="190.1" cy="181.5" rx="6.8" ry="12.0" fill="#4b4b4b"/><ellipse cx="195.2" cy="155.0" rx="7.7" ry="9.4" fill="#c4c4c4"/><path d="M6.0,109.6C6.0,97.3 13.6,81.3 20.5,68.5C27.5,55.7 38.0,42.1 47.9,32.5C57.9,23.0 68.5,16.0 80.5,11.1C92.5,6.3 107.9,2.7 119.9,3.4C131.8,4.1 143.3,9.4 152.4,15.4C161.5,21.4 170.2,30.5 174.7,39.4C179.1,48.2 178.4,59.1 178.9,68.5C179.5,77.9 180.5,89.6 178.1,95.9C175.7,102.2 167.5,108.7 164.4,106.2C161.2,103.6 162.4,87.2 159.2,80.5C156.1,73.8 152.1,69.8 145.5,65.9C139.0,62.1 128.1,58.5 119.9,57.4C111.6,56.2 103.6,57.1 95.9,59.1C88.2,61.1 79.5,64.4 73.6,69.3C67.8,74.3 63.2,82.0 60.8,89.0C58.4,96.0 57.2,104.0 59.1,111.3C60.9,118.6 66.9,128.4 71.9,132.7C76.9,137.0 87.3,133.7 89.0,137.0C90.8,140.3 88.5,150.1 82.2,152.4C75.9,154.7 61.6,152.4 51.4,150.7C41.1,149.0 28.1,149.0 20.5,142.1C13.0,135.3 6.0,121.9 6.0,109.6Z" fill="#646464" stroke="#646464" stroke-width="6.8" stroke-linejoin="round"/><path d="M6.0,109.6C6.0,97.3 13.6,81.3 20.5,68.5C27.5,55.7 38.0,42.1 47.9,32.5C57.9,23.0 68.5,16.0 80.5,11.1C92.5,6.3 107.9,2.7 119.9,3.4C131.8,4.1 143.3,9.4 152.4,15.4C161.5,21.4 170.2,30.5 174.7,39.4C179.1,48.2 178.4,59.1 178.9,68.5C179.5,77.9 180.5,89.6 178.1,95.9C175.7,102.2 167.5,108.7 164.4,106.2C161.2,103.6 162.4,87.2 159.2,80.5C156.1,73.8 152.1,69.8 145.5,65.9C139.0,62.1 128.1,58.5 119.9,57.4C111.6,56.2 103.6,57.1 95.9,59.1C88.2,61.1 79.5,64.4 73.6,69.3C67.8,74.3 63.2,82.0 60.8,89.0C58.4,96.0 57.2,104.0 59.1,111.3C60.9,118.6 66.9,128.4 71.9,132.7C76.9,137.0 87.3,133.7 89.0,137.0C90.8,140.3 88.5,150.1 82.2,152.4C75.9,154.7 61.6,152.4 51.4,150.7C41.1,149.0 28.1,149.0 20.5,142.1C13.0,135.3 6.0,121.9 6.0,109.6Z" fill="#434343"/><ellipse cx="150.7" cy="51.4" rx="25.7" ry="15.8" fill="#313131" transform="rotate(30 150.7 51.4)"/><ellipse cx="42.8" cy="106.2" rx="15.4" ry="12.0" fill="#393939"/><ellipse cx="102.7" cy="34.2" rx="34.2" ry="12.0" fill="#3b3b3b" transform="rotate(-5 102.7 34.2)"/><ellipse cx="71.9" cy="51.4" rx="20.5" ry="10.3" fill="#3b3b3b" transform="rotate(-40 71.9 51.4)"/><path d="M56.5,143.8C63.1,145.7 85.3,155.7 95.9,155.0C106.4,154.3 114.6,146.0 119.9,139.6C125.1,133.1 126.3,120.3 127.6,116.4" fill="none" stroke="#666666" stroke-width="33.4" stroke-linecap="round" stroke-linejoin="round"/><path d="M56.5,143.8C63.1,145.7 85.3,155.7 95.9,155.0C106.4,154.3 114.6,146.0 119.9,139.6C125.1,133.1 126.3,120.3 127.6,116.4" fill="none" stroke="#4c4c4c" stroke-width="24.0" stroke-linecap="round" stroke-linejoin="round"/><path d="M69.3,106.5C69.8,102.7 68.1,90.7 71.9,83.9C75.8,77.1 83.6,68.9 92.5,65.9C101.3,62.9 115.9,61.9 125.0,65.9C134.1,69.9 143.4,80.9 147.3,89.9C151.1,98.9 148.0,114.9 148.1,119.9" fill="none" stroke="#767676" stroke-width="11.3" stroke-linecap="round" stroke-linejoin="round"/><ellipse cx="83.4" cy="81.3" rx="3.8" ry="9.4" fill="#b8b8b8" transform="rotate(25 83.4 81.3)"/><path d="M68.5,109.9C70.8,112.0 76.8,120.8 82.2,122.4C87.6,124.1 97.9,120.3 101.0,119.9" fill="none" stroke="#8d8d8d" stroke-width="7.7" stroke-linecap="round" stroke-linejoin="round"/><ellipse cx="107.0" cy="100.2" rx="22.3" ry="21.4" fill="#626262"/><ellipse cx="107.9" cy="100.2" rx="18.0" ry="18.0" fill="#414141"/><ellipse cx="116.4" cy="100.2" rx="10.6" ry="13.7" fill="#313131"/><ellipse cx="98.5" cy="99.3" rx="3.1" ry="4.3" fill="#9d9d9d"/></g>
<g id="ir2" clip-path="url(#c200)"><use href="#f2" filter="url(#fi2)"/></g>
<g id="th2"><g transform="scale(0.6232,0.619)" clip-path="url(#c200)"><use href="#f2" filter="url(#fg2)"/></g></g>
<g id="f3"><rect x="-30" y="-30" width="260" height="260" fill="#a3a3a3"/><path d="M-3.4,-3.4C-0.9,-38.0 10.4,-14.0 12.0,-3.4C13.6,7.1 6.0,39.4 6.0,59.9C6.0,80.5 8.7,103.3 12.0,119.9C15.3,136.4 20.7,145.3 25.7,159.2C30.7,173.2 46.8,196.3 42.0,203.8C37.1,211.2 4.1,238.3 -3.4,203.8C-11.0,169.2 -6.0,31.1 -3.4,-3.4Z" fill="#d2d2d2"/><ellipse cx="20.5" cy="184.9" rx="24.8" ry="16.3" fill="#d0d0d0"/><path d="M24.0,71.9C25.7,65.4 28.3,43.2 34.2,32.5C40.2,21.8 50.9,13.4 59.9,7.7C68.9,2.0 83.5,-0.1 88.2,-1.7" fill="none" stroke="#c2c2c2" stroke-width="10.3" stroke-linecap="round" stroke-linejoin="round"/><path d="M10.3,39.4 L22.3,10.3" fill="none" stroke="#a1a1a1" stroke-width="6.0" stroke-linecap="round" stroke-linejoin="round"/><ellipse cx="166.1" cy="125.9" rx="25.7" ry="18.0" fill="#767676"/><ellipse cx="172.9" cy="165.2" rx="7.7" ry="12.0" fill="#cecece"/><ellipse cx="190.1" cy="190.1" rx="12.0" ry="10.3" fill="#cccccc"/><ellipse cx="149.8" cy="195.2" rx="19.7" ry="6.0" fill="#b1b1b1"/><path d="M89.9,-3.4C107.2,-7.3 184.8,-10.7 203.8,-3.4C222.7,3.9 212.8,35.5 203.8,40.2C194.8,44.9 167.1,28.3 149.8,24.8C132.6,21.4 110.2,24.4 100.2,19.7C90.2,15.0 72.6,0.4 89.9,-3.4Z" fill="#585858"/><path d="M159.2,17.1C165.1,7.4 196.3,1.1 203.8,17.1C211.2,33.1 207.8,97.3 203.8,113.0C199.8,128.7 185.6,117.6 179.8,111.3C173.9,105.0 172.1,91.0 168.7,75.3C165.2,59.6 153.4,26.8 159.2,17.1Z" fill="#4e4e4e"/><ellipse cx="197.8" cy="84.8" rx="16.3" ry="47.9" fill="#494949"/><ellipse cx="200.3" cy="88.2" rx="7.7" ry="36.0" fill="#333333"/><path d="M100.2,7.7C93.8,9.4 72.3,11.8 61.6,18.0C50.9,24.1 42.5,33.4 36.0,44.5C29.4,55.7 24.0,71.9 22.3,84.8C20.5,97.6 22.4,110.3 25.7,121.6C29.0,132.8 34.2,143.1 42.0,152.4C49.7,161.7 61.6,171.9 71.9,177.2C82.2,182.5 94.6,184.9 103.6,184.1C112.6,183.2 122.1,174.1 125.9,172.1" fill="none" stroke="#898989" stroke-width="20.2" stroke-linecap="round" stroke-linejoin="round"/><path d="M100.2,7.7C93.8,9.4 72.3,11.8 61.6,18.0C50.9,24.1 42.5,33.4 36.0,44.5C29.4,55.7 24.0,71.9 22.3,84.8C20.5,97.6 22.4,110.3 25.7,121.6C29.0,132.8 34.2,143.1 42.0,152.4C49.7,161.7 61.6,171.9 71.9,177.2C82.2,182.5 94.6,184.9 103.6,184.1C112.6,183.2 122.1,174.1 125.9,172.1" fill="none" stroke="#727272" stroke-width="13.0" stroke-linecap="round" stroke-linejoin="round"/><ellipse cx="125.0" cy="172.1" rx="28.3" ry="13.7" fill="#6e6e6e"/><path d="M95.0,18.0C110.7,13.8 128.4,11.7 139.6,15.4C150.7,19.1 157.1,30.3 161.8,40.2C166.5,50.2 165.4,65.4 167.8,75.3C170.2,85.3 177.7,92.5 176.4,100.2C175.1,107.9 164.5,113.3 160.1,121.6C155.7,129.9 156.5,141.0 149.8,149.8C143.1,158.7 131.6,170.9 119.9,174.7C108.2,178.4 92.0,176.2 79.6,172.1C67.2,168.0 53.7,159.4 45.4,149.8C37.1,140.3 32.5,127.1 30.0,114.7C27.4,102.3 27.4,87.8 30.0,75.3C32.5,62.9 34.5,49.8 45.4,40.2C56.2,30.7 79.3,22.1 95.0,18.0Z" fill="#5e5e5e" stroke="#5e5e5e" stroke-width="7.7" stroke-linejoin="round"/><path d="M95.0,18.0C110.7,13.8 128.4,11.7 139.6,15.4C150.7,19.1 157.1,30.3 161.8,40.2C166.5,50.2 165.4,65.4 167.8,75.3C170.2,85.3 177.7,92.5 176.4,100.2C175.1,107.9 164.5,113.3 160.1,121.6C155.7,129.9 156.5,141.0 149.8,149.8C143.1,158.7 131.6,170.9 119.9,174.7C108.2,178.4 92.0,176.2 79.6,172.1C67.2,168.0 53.7,159.4 45.4,149.8C37.1,140.3 32.5,127.1 30.0,114.7C27.4,102.3 27.4,87.8 30.0,75.3C32.5,62.9 34.5,49.8 45.4,40.2C56.2,30.7 79.3,22.1 95.0,18.0Z" fill="#454545"/><ellipse cx="160.1" cy="37.7" rx="15.1" ry="18.8" fill="#727272"/><ellipse cx="156.7" cy="36.0" rx="7.7" ry="12.0" fill="#919191"/><ellipse cx="95.0" cy="68.5" rx="46.2" ry="28.3" fill="#313131" transform="rotate(-20 95.0 68.5)"/><ellipse cx="70.2" cy="95.0" rx="15.1" ry="22.3" fill="#2d2d2d"/><ellipse cx="125.0" cy="114.7" rx="19.7" ry="34.2" fill="#2d2d2d" transform="rotate(15 125.0 114.7)"/><ellipse cx="160.1" cy="84.8" rx="9.9" ry="8.0" fill="#2d2d2d"/><ellipse cx="70.2" cy="89.9" rx="3.9" ry="6.0" fill="#212121"/><ellipse cx="121.9" cy="118.2" rx="3.1" ry="3.9" fill="#212121"/><path d="M97.9,102.4C98.9,99.9 99.9,91.5 103.6,87.7C107.2,83.8 114.4,80.3 119.9,79.3C125.4,78.3 133.8,81.4 136.6,81.8" fill="none" stroke="#686868" stroke-width="3.8" stroke-linecap="round" stroke-linejoin="round"/><path d="M45.4,125.0C48.1,129.1 53.4,143.7 61.6,149.8C69.9,156.0 89.5,159.8 95.0,161.8" fill="none" stroke="#505050" stroke-width="12.0" stroke-linecap="round" stroke-linejoin="round"/><ellipse cx="142.1" cy="178.1" rx="6.0" ry="8.0" fill="#373737"/></g>
<g id="ir3" clip-path="url(#c200)"><use href="#f3" filter="url(#fi3)"/></g>
<g id="th3"><g transform="scale(0.6232,0.619)" clip-path="url(#c200)"><use href="#f3" filter="url(#fg3)"/></g></g>
<g id="f4"><rect x="-30" y="-30" width="260" height="260" fill="#d2d2d2"/><path d="M10.3,17.1C11.1,25.7 15.4,51.4 15.4,68.5C15.4,85.6 11.1,111.3 10.3,119.9" fill="none" stroke="#c8c8c8" stroke-width="5.1" stroke-linecap="round" stroke-linejoin="round"/><path d="M34.2,85.6C36.0,94.2 40.8,122.7 44.5,137.0C48.2,151.3 54.5,165.5 56.5,171.2" fill="none" stroke="#c8c8c8" stroke-width="5.1" stroke-linecap="round" stroke-linejoin="round"/><ellipse cx="17.1" cy="162.7" rx="10.3" ry="6.8" fill="#c6c6c6"/><path d="M31.7,0.0 L25.7,18.8" fill="none" stroke="#a9a9a9" stroke-width="2.6" stroke-linecap="round" stroke-linejoin="round"/><ellipse cx="47.1" cy="141.3" rx="7.7" ry="3.8" fill="#a7a7a7"/><ellipse cx="5.1" cy="190.1" rx="7.7" ry="13.7" fill="#adadad"/><path d="M70.2,149.8C74.3,145.7 94.6,154.0 109.6,149.8C124.6,145.7 144.4,133.3 160.1,125.0C175.8,116.7 196.5,87.0 203.8,100.2C211.0,113.3 225.2,186.5 203.8,203.8C182.4,221.0 95.2,208.6 75.3,203.8C55.5,198.9 85.6,183.6 84.8,174.7C83.9,165.7 66.1,154.0 70.2,149.8Z" fill="#a9a9a9"/><ellipse cx="165.2" cy="155.0" rx="18.0" ry="9.9" fill="#c4c4c4" transform="rotate(-30 165.2 155.0)"/><ellipse cx="100.2" cy="178.1" rx="12.0" ry="8.0" fill="#c8c8c8"/><ellipse cx="119.9" cy="197.8" rx="12.0" ry="6.0" fill="#c4c4c4"/><ellipse cx="130.1" cy="184.9" rx="9.9" ry="8.0" fill="#7c7c7c"/><ellipse cx="149.8" cy="191.8" rx="9.9" ry="8.0" fill="#7c7c7c"/><ellipse cx="174.7" cy="179.8" rx="8.0" ry="8.0" fill="#7e7e7e"/><ellipse cx="192.6" cy="179.8" rx="12.0" ry="25.7" fill="#373737"/><path d="M58.2,-7.7C30.9,-1.4 46.9,17.0 44.0,30.0C41.2,43.0 40.1,57.7 41.1,70.2C42.1,82.7 45.1,94.1 50.0,105.0C54.9,115.8 61.8,127.8 70.2,135.3C78.6,142.8 88.5,148.7 100.2,149.8C111.8,151.0 128.1,147.1 140.1,142.1C152.1,137.1 160.8,125.6 172.1,119.9C183.4,114.2 202.1,129.1 208.0,107.9C214.0,86.6 233.0,11.6 208.0,-7.7C183.1,-27.0 85.6,-14.0 58.2,-7.7Z" fill="#a1a1a1" stroke="#a1a1a1" stroke-width="16.3" stroke-linejoin="round"/><path d="M58.2,-7.7C30.9,-1.4 46.9,17.0 44.0,30.0C41.2,43.0 40.1,57.7 41.1,70.2C42.1,82.7 45.1,94.1 50.0,105.0C54.9,115.8 61.8,127.8 70.2,135.3C78.6,142.8 88.5,148.7 100.2,149.8C111.8,151.0 128.1,147.1 140.1,142.1C152.1,137.1 160.8,125.6 172.1,119.9C183.4,114.2 202.1,129.1 208.0,107.9C214.0,86.6 233.0,11.6 208.0,-7.7C183.1,-27.0 85.6,-14.0 58.2,-7.7Z" fill="#767676" stroke="#767676" stroke-width="8.9" stroke-linejoin="round"/><path d="M58.2,-7.7C30.9,-1.4 46.9,17.0 44.0,30.0C41.2,43.0 40.1,57.7 41.1,70.2C42.1,82.7 45.1,94.1 50.0,105.0C54.9,115.8 61.8,127.8 70.2,135.3C78.6,142.8 88.5,148.7 100.2,149.8C111.8,151.0 128.1,147.1 140.1,142.1C152.1,137.1 160.8,125.6 172.1,119.9C183.4,114.2 202.1,129.1 208.0,107.9C214.0,86.6 233.0,11.6 208.0,-7.7C183.1,-27.0 85.6,-14.0 58.2,-7.7Z" fill="#5e5e5e" stroke="#5e5e5e" stroke-width="2.1" stroke-linejoin="round"/><path d="M58.2,-7.7C30.9,-1.4 46.9,17.0 44.0,30.0C41.2,43.0 40.1,57.7 41.1,70.2C42.1,82.7 45.1,94.1 50.0,105.0C54.9,115.8 61.8,127.8 70.2,135.3C78.6,142.8 88.5,148.7 100.2,149.8C111.8,151.0 128.1,147.1 140.1,142.1C152.1,137.1 160.8,125.6 172.1,119.9C183.4,114.2 202.1,129.1 208.0,107.9C214.0,86.6 233.0,11.6 208.0,-7.7C183.1,-27.0 85.6,-14.0 58.2,-7.7Z" fill="#474747"/><path d="M68.5,-7.7C65.8,-1.4 55.4,17.0 52.2,30.0C49.0,43.0 48.5,58.1 49.3,70.2C50.2,82.3 52.9,92.8 57.4,102.7C61.8,112.7 68.6,123.3 76.2,130.1C83.8,136.9 98.3,141.3 102.7,143.5" fill="none" stroke="#666666" stroke-width="6.2" stroke-linecap="round" stroke-linejoin="round"/><path d="M80.5,-7.7C77.6,-1.4 66.5,17.0 63.0,30.0C59.5,43.0 59.0,58.5 59.6,70.2C60.2,81.9 62.4,91.0 66.4,100.2C70.4,109.3 77.2,119.1 83.6,125.0C90.0,130.9 101.3,133.8 104.8,135.6" fill="none" stroke="#525252" stroke-width="10.6" stroke-linecap="round" stroke-linejoin="round"/><ellipse cx="80.5" cy="18.8" rx="10.3" ry="17.1" fill="#626262"/><path d="M100.2,152.7C106.8,151.2 127.4,149.1 140.1,143.5C152.7,137.9 166.8,125.5 176.0,119.0C185.2,112.5 192.0,106.9 195.2,104.5" fill="none" stroke="#767676" stroke-width="17.1" stroke-linecap="round" stroke-linejoin="round"/><path d="M100.2,152.7C106.8,151.2 127.4,149.1 140.1,143.5C152.7,137.9 166.8,125.5 176.0,119.0C185.2,112.5 192.0,106.9 195.2,104.5" fill="none" stroke="#646464" stroke-width="8.6" stroke-linecap="round" stroke-linejoin="round"/><path d="M95.9,17.1C102.7,15.6 119.6,8.6 137.0,7.7C154.3,6.8 189.5,11.3 200.0,12.0" fill="none" stroke="#525252" stroke-width="16.3" stroke-linecap="round" stroke-linejoin="round"/><path d="M92.5,32.5 L102.7,12.0" fill="none" stroke="#646464" stroke-width="5.1" stroke-linecap="round" stroke-linejoin="round"/><path d="M119.9,15.4 L137.0,5.1" fill="none" stroke="#626262" stroke-width="3.8" stroke-linecap="round" stroke-linejoin="round"/><ellipse cx="162.7" cy="20.5" rx="27.4" ry="10.6" fill="#353535"/><path d="M149.8,49.7C152.4,55.5 160.9,75.3 165.2,84.8C169.6,94.2 174.2,102.6 176.0,106.2" fill="none" stroke="#565656" stroke-width="17.1" stroke-linecap="round" stroke-linejoin="round"/><path d="M154.1,56.5C156.2,61.4 163.2,77.9 167.0,85.6C170.7,93.3 174.8,99.9 176.4,102.7" fill="none" stroke="#646464" stroke-width="5.1" stroke-linecap="round" stroke-linejoin="round"/><ellipse cx="167.8" cy="84.8" rx="3.9" ry="6.0" fill="#767676"/><ellipse cx="109.6" cy="94.2" rx="55.7" ry="51.4" fill="#2f2f2f"/><ellipse cx="101.0" cy="80.0" rx="32.5" ry="22.3" fill="#2b2b2b" transform="rotate(15 101.0 80.0)"/><ellipse cx="85.6" cy="119.9" rx="31.7" ry="20.5" fill="#2b2b2b" transform="rotate(-15 85.6 119.9)"/><ellipse cx="146.1" cy="119.9" rx="11.1" ry="23.1" fill="#2b2b2b" transform="rotate(-10 146.1 119.9)"/><ellipse cx="102.7" cy="79.6" rx="15.1" ry="6.2" fill="#1d1d1d" transform="rotate(15 102.7 79.6)"/><ellipse cx="88.0" cy="119.0" rx="16.8" ry="7.9" fill="#1d1d1d" transform="rotate(-15 88.0 119.0)"/><path d="M112.0,98.5 L115.9,135.3" fill="none" stroke="#3d3d3d" stroke-width="8.0" stroke-linecap="round" stroke-linejoin="round"/><ellipse cx="196.9" cy="87.3" rx="14.6" ry="31.7" fill="#2b2b2b"/><ellipse cx="198.1" cy="85.6" rx="4.8" ry="14.6" fill="#1d1d1d"/><ellipse cx="78.9" cy="164.0" rx="9.9" ry="9.9" fill="#a1a1a1"/><ellipse cx="78.9" cy="164.0" rx="6.0" ry="6.0" fill="#565656"/></g>
<g id="ir4" clip-path="url(#c200)"><use href="#f4" filter="url(#fi4)"/></g>
<g id="th4"><g transform="scale(0.6232,0.619)" clip-path="url(#c200)"><use href="#f4" filter="url(#fg4)"/></g></g>
<filter id="seis" filterUnits="userSpaceOnUse" x="0" y="0" width="201" height="200" color-interpolation-filters="sRGB"><feComponentTransfer><feFuncR type="table" tableValues="0 0 0 0 0 0 0 0 0 0 0 0.1 0.2 0.3 0.4 0.5 0.6 0.7 0.8 0.9 1 1 1 1 1 1 1 1 1 1 1 0.95 0.9 0.85 0.8 0.75 0.7 0.65 0.6 0.55 0.5"/><feFuncG type="table" tableValues="0 0 0 0 0 0 0 0 0 0 0 0.1 0.2 0.3 0.4 0.5 0.6 0.7 0.8 0.9 1 0.9 0.8 0.7 0.6 0.5 0.4 0.3 0.2 0.1 0 0 0 0 0 0 0 0 0 0 0"/><feFuncB type="table" tableValues="0.3 0.37 0.44 0.51 0.58 0.65 0.72 0.79 0.86 0.93 1 1 1 1 1 1 1 1 1 1 1 0.9 0.8 0.7 0.6 0.5 0.4 0.3 0.2 0.1 0 0 0 0 0 0 0 0 0 0 0"/></feComponentTransfer></filter><filter id="sbl" filterUnits="userSpaceOnUse" x="0" y="0" width="201" height="200" color-interpolation-filters="sRGB"><feGaussianBlur stdDeviation="0.9"/></filter><filter id="fn0" filterUnits="userSpaceOnUse" x="0" y="0" width="201" height="200" color-interpolation-filters="sRGB"><feTurbulence type="fractalNoise" baseFrequency="0.15" numOctaves="2" seed="4" result="n"/><feColorMatrix in="n" type="matrix" values="1 0 0 0 0 1 0 0 0 0 1 0 0 0 0 0 0 0 0 1" result="ng"/><feComposite in="SourceGraphic" in2="ng" operator="arithmetic" k1="1" k2="-0.5" k3="0" k4="0.503" result="m"/><feComponentTransfer in="m"><feFuncR type="table" tableValues="0.000 0.032 0.064 0.095 0.126 0.156 0.186 0.214 0.243 0.270 0.297 0.323 0.348 0.372 0.395 0.418 0.438 0.458 0.475 0.490 0.500 0.510 0.525 0.542 0.562 0.582 0.605 0.628 0.652 0.677 0.703 0.730 0.757 0.786 0.814 0.844 0.874 0.905 0.936 0.968 1.000"/><feFuncG type="table" tableValues="0.000 0.032 0.064 0.095 0.126 0.156 0.186 0.214 0.243 0.270 0.297 0.323 0.348 0.372 0.395 0.418 0.438 0.458 0.475 0.490 0.500 0.510 0.525 0.542 0.562 0.582 0.605 0.628 0.652 0.677 0.703 0.730 0.757 0.786 0.814 0.844 0.874 0.905 0.936 0.968 1.000"/><feFuncB type="table" tableValues="0.000 0.032 0.064 0.095 0.126 0.156 0.186 0.214 0.243 0.270 0.297 0.323 0.348 0.372 0.395 0.418 0.438 0.458 0.475 0.490 0.500 0.510 0.525 0.542 0.562 0.582 0.605 0.628 0.652 0.677 0.703 0.730 0.757 0.786 0.814 0.844 0.874 0.905 0.936 0.968 1.000"/></feComponentTransfer></filter><radialGradient id="ev0_0" gradientUnits="userSpaceOnUse" cx="95" cy="95" r="68"><stop offset="0" stop-color="#fff" stop-opacity="1.15"/><stop offset="0.3" stop-color="#fff" stop-opacity="0.69"/><stop offset="0.65" stop-color="#fff" stop-opacity="0.22999999999999998"/><stop offset="1" stop-color="#fff" stop-opacity="0"/></radialGradient><g id="sh0" clip-path="url(#c200)"><g filter="url(#seis)"><g filter="url(#fn0)"><rect width="201" height="200" fill="rgb(26,26,26)"/><circle cx="95" cy="95" r="68" fill="url(#ev0_0)"/></g><g filter="url(#sbl)"><ellipse cx="102" cy="93" rx="3.2" ry="4.5" fill="rgb(235,235,235)" transform="rotate(10 102 93)"/><ellipse cx="117" cy="93" rx="5" ry="2.2" fill="rgb(56,56,56)" transform="rotate(-20 117 93)"/><ellipse cx="92" cy="104" rx="5" ry="2" fill="rgb(56,56,56)" transform="rotate(10 92 104)"/><ellipse cx="86" cy="100" rx="5" ry="1.6" fill="rgb(204,204,204)"/><ellipse cx="96" cy="115" rx="3" ry="4" fill="rgb(204,204,204)" transform="rotate(30 96 115)"/><ellipse cx="53" cy="75" rx="8" ry="1.5" fill="rgb(173,173,173)"/><ellipse cx="53" cy="82" rx="8" ry="1.5" fill="rgb(92,92,92)"/><ellipse cx="57" cy="89" rx="7" ry="1.4" fill="rgb(168,168,168)"/><ellipse cx="100" cy="83" rx="3" ry="4" fill="rgb(76,76,76)" transform="rotate(20 100 83)"/><ellipse cx="110" cy="108" rx="3" ry="4" fill="rgb(76,76,76)"/><ellipse cx="112" cy="115" rx="5" ry="2" fill="rgb(184,184,184)" transform="rotate(-10 112 115)"/><ellipse cx="80" cy="118" rx="4" ry="2" fill="rgb(184,184,184)" transform="rotate(-30 80 118)"/><ellipse cx="76" cy="114" rx="4" ry="2" fill="rgb(84,84,84)" transform="rotate(-30 76 114)"/><ellipse cx="115" cy="88" rx="2.5" ry="2" fill="rgb(191,191,191)"/></g></g></g><filter id="fn1" filterUnits="userSpaceOnUse" x="0" y="0" width="201" height="200" color-interpolation-filters="sRGB"><feTurbulence type="fractalNoise" baseFrequency="0.15" numOctaves="2" seed="9" result="n"/><feColorMatrix in="n" type="matrix" values="1 0 0 0 0 1 0 0 0 0 1 0 0 0 0 0 0 0 0 1" result="ng"/><feComposite in="SourceGraphic" in2="ng" operator="arithmetic" k1="1" k2="-0.5" k3="0" k4="0.503" result="m"/><feComponentTransfer in="m"><feFuncR type="table" tableValues="0.000 0.032 0.064 0.095 0.126 0.156 0.186 0.214 0.243 0.270 0.297 0.323 0.348 0.372 0.395 0.418 0.438 0.458 0.475 0.490 0.500 0.510 0.525 0.542 0.562 0.582 0.605 0.628 0.652 0.677 0.703 0.730 0.757 0.786 0.814 0.844 0.874 0.905 0.936 0.968 1.000"/><feFuncG type="table" tableValues="0.000 0.032 0.064 0.095 0.126 0.156 0.186 0.214 0.243 0.270 0.297 0.323 0.348 0.372 0.395 0.418 0.438 0.458 0.475 0.490 0.500 0.510 0.525 0.542 0.562 0.582 0.605 0.628 0.652 0.677 0.703 0.730 0.757 0.786 0.814 0.844 0.874 0.905 0.936 0.968 1.000"/><feFuncB type="table" tableValues="0.000 0.032 0.064 0.095 0.126 0.156 0.186 0.214 0.243 0.270 0.297 0.323 0.348 0.372 0.395 0.418 0.438 0.458 0.475 0.490 0.500 0.510 0.525 0.542 0.562 0.582 0.605 0.628 0.652 0.677 0.703 0.730 0.757 0.786 0.814 0.844 0.874 0.905 0.936 0.968 1.000"/></feComponentTransfer></filter><radialGradient id="ev1_0" gradientUnits="userSpaceOnUse" cx="96" cy="98" r="58"><stop offset="0" stop-color="#fff" stop-opacity="1.1"/><stop offset="0.3" stop-color="#fff" stop-opacity="0.66"/><stop offset="0.65" stop-color="#fff" stop-opacity="0.22000000000000003"/><stop offset="1" stop-color="#fff" stop-opacity="0"/></radialGradient><radialGradient id="ev1_1" gradientUnits="userSpaceOnUse" cx="138" cy="122" r="32"><stop offset="0" stop-color="#fff" stop-opacity="0.66"/><stop offset="0.3" stop-color="#fff" stop-opacity="0.396"/><stop offset="0.65" stop-color="#fff" stop-opacity="0.132"/><stop offset="1" stop-color="#fff" stop-opacity="0"/></radialGradient><g id="sh1" clip-path="url(#c200)"><g filter="url(#seis)"><g filter="url(#fn1)"><rect width="201" height="200" fill="rgb(22,22,22)"/><circle cx="96" cy="98" r="58" fill="url(#ev1_0)"/><circle cx="138" cy="122" r="32" fill="url(#ev1_1)"/></g><g filter="url(#sbl)"><ellipse cx="104" cy="98" rx="2.4" ry="7" fill="rgb(247,247,247)" transform="rotate(-8 104 98)"/><ellipse cx="99" cy="84" rx="2.5" ry="4.5" fill="rgb(56,56,56)"/><ellipse cx="85" cy="94" rx="3" ry="2.5" fill="rgb(64,64,64)"/><ellipse cx="91" cy="88" rx="4" ry="3.5" fill="rgb(184,184,184)"/><ellipse cx="87" cy="100" rx="7" ry="1.5" fill="rgb(191,191,191)"/><ellipse cx="105" cy="108" rx="3" ry="2" fill="rgb(76,76,76)" transform="rotate(30 105 108)"/><ellipse cx="66" cy="97" rx="4" ry="4" fill="rgb(92,92,92)"/><ellipse cx="68" cy="106" rx="8" ry="2.5" fill="rgb(173,173,173)" transform="rotate(20 68 106)"/><ellipse cx="80" cy="114" rx="6" ry="2.5" fill="rgb(84,84,84)" transform="rotate(-30 80 114)"/><ellipse cx="112" cy="96" rx="3" ry="2" fill="rgb(76,76,76)"/><ellipse cx="138" cy="108" rx="3" ry="3" fill="rgb(84,84,84)"/><ellipse cx="138" cy="101" rx="2" ry="2.5" fill="rgb(178,178,178)"/><ellipse cx="122" cy="127" rx="6" ry="2.5" fill="rgb(92,92,92)" transform="rotate(20 122 127)"/><ellipse cx="52" cy="82" rx="5" ry="2" fill="rgb(97,97,97)"/></g></g></g><filter id="fn2" filterUnits="userSpaceOnUse" x="0" y="0" width="201" height="200" color-interpolation-filters="sRGB"><feTurbulence type="fractalNoise" baseFrequency="0.15" numOctaves="2" seed="14" result="n"/><feColorMatrix in="n" type="matrix" values="1 0 0 0 0 1 0 0 0 0 1 0 0 0 0 0 0 0 0 1" result="ng"/><feComposite in="SourceGraphic" in2="ng" operator="arithmetic" k1="1" k2="-0.5" k3="0" k4="0.503" result="m"/><feComponentTransfer in="m"><feFuncR type="table" tableValues="0.000 0.032 0.064 0.095 0.126 0.156 0.186 0.214 0.243 0.270 0.297 0.323 0.348 0.372 0.395 0.418 0.438 0.458 0.475 0.490 0.500 0.510 0.525 0.542 0.562 0.582 0.605 0.628 0.652 0.677 0.703 0.730 0.757 0.786 0.814 0.844 0.874 0.905 0.936 0.968 1.000"/><feFuncG type="table" tableValues="0.000 0.032 0.064 0.095 0.126 0.156 0.186 0.214 0.243 0.270 0.297 0.323 0.348 0.372 0.395 0.418 0.438 0.458 0.475 0.490 0.500 0.510 0.525 0.542 0.562 0.582 0.605 0.628 0.652 0.677 0.703 0.730 0.757 0.786 0.814 0.844 0.874 0.905 0.936 0.968 1.000"/><feFuncB type="table" tableValues="0.000 0.032 0.064 0.095 0.126 0.156 0.186 0.214 0.243 0.270 0.297 0.323 0.348 0.372 0.395 0.418 0.438 0.458 0.475 0.490 0.500 0.510 0.525 0.542 0.562 0.582 0.605 0.628 0.652 0.677 0.703 0.730 0.757 0.786 0.814 0.844 0.874 0.905 0.936 0.968 1.000"/></feComponentTransfer></filter><radialGradient id="ev2_0" gradientUnits="userSpaceOnUse" cx="100" cy="102" r="40"><stop offset="0" stop-color="#fff" stop-opacity="0.6"/><stop offset="0.3" stop-color="#fff" stop-opacity="0.36"/><stop offset="0.65" stop-color="#fff" stop-opacity="0.12"/><stop offset="1" stop-color="#fff" stop-opacity="0"/></radialGradient><g id="sh2" clip-path="url(#c200)"><g filter="url(#seis)"><g filter="url(#fn2)"><rect width="201" height="200" fill="rgb(21,21,21)"/><circle cx="100" cy="102" r="40" fill="url(#ev2_0)"/></g><g filter="url(#sbl)"><ellipse cx="100" cy="98.5" rx="2.2" ry="3.2" fill="rgb(250,250,250)"/><ellipse cx="94" cy="113" rx="1.6" ry="10" fill="rgb(92,92,92)" transform="rotate(30 94 113)"/><ellipse cx="83" cy="117" rx="6" ry="1.5" fill="rgb(97,97,97)" transform="rotate(-15 83 117)"/><ellipse cx="84" cy="120" rx="4" ry="2" fill="rgb(168,168,168)"/></g></g></g><filter id="fn3" filterUnits="userSpaceOnUse" x="0" y="0" width="201" height="200" color-interpolation-filters="sRGB"><feTurbulence type="fractalNoise" baseFrequency="0.14" numOctaves="2" seed="19" result="n"/><feColorMatrix in="n" type="matrix" values="1 0 0 0 0 1 0 0 0 0 1 0 0 0 0 0 0 0 0 1" result="ng"/><feComposite in="SourceGraphic" in2="ng" operator="arithmetic" k1="1" k2="-0.5" k3="0" k4="0.503" result="m"/><feComponentTransfer in="m"><feFuncR type="table" tableValues="0.000 0.032 0.064 0.095 0.126 0.156 0.186 0.214 0.243 0.270 0.297 0.323 0.348 0.372 0.395 0.418 0.438 0.458 0.475 0.490 0.500 0.510 0.525 0.542 0.562 0.582 0.605 0.628 0.652 0.677 0.703 0.730 0.757 0.786 0.814 0.844 0.874 0.905 0.936 0.968 1.000"/><feFuncG type="table" tableValues="0.000 0.032 0.064 0.095 0.126 0.156 0.186 0.214 0.243 0.270 0.297 0.323 0.348 0.372 0.395 0.418 0.438 0.458 0.475 0.490 0.500 0.510 0.525 0.542 0.562 0.582 0.605 0.628 0.652 0.677 0.703 0.730 0.757 0.786 0.814 0.844 0.874 0.905 0.936 0.968 1.000"/><feFuncB type="table" tableValues="0.000 0.032 0.064 0.095 0.126 0.156 0.186 0.214 0.243 0.270 0.297 0.323 0.348 0.372 0.395 0.418 0.438 0.458 0.475 0.490 0.500 0.510 0.525 0.542 0.562 0.582 0.605 0.628 0.652 0.677 0.703 0.730 0.757 0.786 0.814 0.844 0.874 0.905 0.936 0.968 1.000"/></feComponentTransfer></filter><radialGradient id="ev3_0" gradientUnits="userSpaceOnUse" cx="100" cy="100" r="60"><stop offset="0" stop-color="#fff" stop-opacity="0.45"/><stop offset="0.3" stop-color="#fff" stop-opacity="0.27"/><stop offset="0.65" stop-color="#fff" stop-opacity="0.09000000000000001"/><stop offset="1" stop-color="#fff" stop-opacity="0"/></radialGradient><g id="sh3" clip-path="url(#c200)"><g filter="url(#seis)"><g filter="url(#fn3)"><rect width="201" height="200" fill="rgb(25,25,25)"/><circle cx="100" cy="100" r="60" fill="url(#ev3_0)"/></g><g filter="url(#sbl)"><ellipse cx="100" cy="98" rx="2.2" ry="4" fill="rgb(247,247,247)"/><ellipse cx="68" cy="79" rx="9" ry="2" fill="rgb(148,148,148)"/><ellipse cx="127" cy="80" rx="9" ry="1.2" fill="rgb(110,110,110)" transform="rotate(8 127 80)"/><ellipse cx="104" cy="119" rx="3" ry="3" fill="rgb(102,102,102)"/><ellipse cx="101" cy="111" rx="4" ry="3" fill="rgb(158,158,158)" transform="rotate(-30 101 111)"/><ellipse cx="97" cy="105" rx="4" ry="1.5" fill="rgb(102,102,102)"/></g></g></g><filter id="fn4" filterUnits="userSpaceOnUse" x="0" y="0" width="201" height="200" color-interpolation-filters="sRGB"><feTurbulence type="fractalNoise" baseFrequency="0.12" numOctaves="2" seed="24" result="n"/><feColorMatrix in="n" type="matrix" values="1 0 0 0 0 1 0 0 0 0 1 0 0 0 0 0 0 0 0 1" result="ng"/><feComposite in="SourceGraphic" in2="ng" operator="arithmetic" k1="1" k2="-0.5" k3="0" k4="0.503" result="m"/><feComponentTransfer in="m"><feFuncR type="table" tableValues="0.000 0.032 0.064 0.095 0.126 0.156 0.186 0.214 0.243 0.270 0.297 0.323 0.348 0.372 0.395 0.418 0.438 0.458 0.475 0.490 0.500 0.510 0.525 0.542 0.562 0.582 0.605 0.628 0.652 0.677 0.703 0.730 0.757 0.786 0.814 0.844 0.874 0.905 0.936 0.968 1.000"/><feFuncG type="table" tableValues="0.000 0.032 0.064 0.095 0.126 0.156 0.186 0.214 0.243 0.270 0.297 0.323 0.348 0.372 0.395 0.418 0.438 0.458 0.475 0.490 0.500 0.510 0.525 0.542 0.562 0.582 0.605 0.628 0.652 0.677 0.703 0.730 0.757 0.786 0.814 0.844 0.874 0.905 0.936 0.968 1.000"/><feFuncB type="table" tableValues="0.000 0.032 0.064 0.095 0.126 0.156 0.186 0.214 0.243 0.270 0.297 0.323 0.348 0.372 0.395 0.418 0.438 0.458 0.475 0.490 0.500 0.510 0.525 0.542 0.562 0.582 0.605 0.628 0.652 0.677 0.703 0.730 0.757 0.786 0.814 0.844 0.874 0.905 0.936 0.968 1.000"/></feComponentTransfer></filter><radialGradient id="ev4_0" gradientUnits="userSpaceOnUse" cx="90" cy="100" r="120"><stop offset="0" stop-color="#fff" stop-opacity="0.6"/><stop offset="0.3" stop-color="#fff" stop-opacity="0.36"/><stop offset="0.65" stop-color="#fff" stop-opacity="0.12"/><stop offset="1" stop-color="#fff" stop-opacity="0"/></radialGradient><g id="sh4" clip-path="url(#c200)"><g filter="url(#seis)"><g filter="url(#fn4)"><rect width="201" height="200" fill="rgb(46,46,46)"/><circle cx="90" cy="100" r="120" fill="url(#ev4_0)"/></g><g filter="url(#sbl)"><ellipse cx="99" cy="97" rx="2.5" ry="3.2" fill="rgb(61,61,61)" transform="rotate(10 99 97)"/><ellipse cx="131" cy="23" rx="3.5" ry="2.6" fill="rgb(92,92,92)"/><ellipse cx="103" cy="80" rx="3" ry="4" fill="rgb(163,163,163)"/></g></g></g>
</defs>
<text x="584.00" y="24.90" font-size="20.83" text-anchor="middle">Estimated Max Wind Speed for 12W at 20250728 0510UTC</text>
<text x="131.70" y="102.70" font-size="15.28" text-anchor="middle">IR from</text>
<text x="131.70" y="119.90" font-size="15.28" text-anchor="middle">20250728</text>
<text x="131.70" y="137.10" font-size="15.28" text-anchor="middle">at 0510UTC</text>
<use href="#th0" x="0" y="0" transform="translate(69.20,147.5)"/>
<rect x="69.20" y="147.50" width="125.00" height="123.80" fill="none" stroke="#000" stroke-width="1.1"/>
<text x="274.50" y="102.70" font-size="15.28" text-anchor="middle">IR from</text>
<text x="274.50" y="119.90" font-size="15.28" text-anchor="middle">20250728</text>
<text x="274.50" y="137.10" font-size="15.28" text-anchor="middle">at 0210UTC</text>
<use href="#th1" x="0" y="0" transform="translate(212.00,147.5)"/>
<rect x="212.00" y="147.50" width="125.00" height="123.80" fill="none" stroke="#000" stroke-width="1.1"/>
<text x="416.80" y="102.70" font-size="15.28" text-anchor="middle">IR from</text>
<text x="416.80" y="119.90" font-size="15.28" text-anchor="middle">20250727</text>
<text x="416.80" y="137.10" font-size="15.28" text-anchor="middle">at 2310UTC</text>
<use href="#th2" x="0" y="0" transform="translate(354.30,147.5)"/>
<rect x="354.30" y="147.50" width="125.00" height="123.80" fill="none" stroke="#000" stroke-width="1.1"/>
<text x="558.90" y="102.70" font-size="15.28" text-anchor="middle">IR from</text>
<text x="558.90" y="119.90" font-size="15.28" text-anchor="middle">20250727</text>
<text x="558.90" y="137.10" font-size="15.28" text-anchor="middle">at 2010UTC</text>
<use href="#th3" x="0" y="0" transform="translate(496.40,147.5)"/>
<rect x="496.40" y="147.50" width="125.00" height="123.80" fill="none" stroke="#000" stroke-width="1.1"/>
<text x="701.80" y="102.70" font-size="15.28" text-anchor="middle">IR from</text>
<text x="701.80" y="119.90" font-size="15.28" text-anchor="middle">20250727</text>
<text x="701.80" y="137.10" font-size="15.28" text-anchor="middle">at 1710UTC</text>
<use href="#th4" x="0" y="0" transform="translate(639.30,147.5)"/>
<rect x="639.30" y="147.50" width="125.00" height="123.80" fill="none" stroke="#000" stroke-width="1.1"/>
<text x="934.30" y="50.30" font-size="15.28" text-anchor="middle">Estimated MSW, knots</text>
<path d="M802.4,359.3V356.2H836.8V359.3ZM836.8,359.3V334.1H840.9V359.3ZM840.9,359.3V303.1H846.0V359.3ZM846.0,359.3V245.8H851.1V359.3ZM851.1,359.3V192.0H857.2V359.3ZM857.2,359.3V100.3H860.3V359.3ZM860.3,359.3V76.1H863.7V359.3ZM863.7,359.3V81.6H866.1V359.3ZM866.1,359.3V73.1H870.9V359.3ZM870.9,359.3V126.2H874.6V359.3ZM874.6,359.3V134.0H878.7V359.3ZM878.7,359.3V229.1H886.9V359.3ZM886.9,359.3V274.8H891.6V359.3ZM891.6,359.3V323.5H900.5V359.3ZM900.5,359.3V342.9H907.0V359.3ZM907.0,359.3V358.3H1075.0V359.3Z" fill="#8b008b"/>
<line x1="867.00" y1="59.30" x2="867.00" y2="359.30" stroke="#000" stroke-width="2.08"/>
<line x1="916" y1="359.3" x2="916" y2="59.3" stroke="#a9a9a9" stroke-width="5.55" stroke-dasharray="5.55 9.16"/>
<rect x="784.50" y="59.30" width="299.60" height="300.00" fill="none" stroke="#000" stroke-width="1.1"/>
<line x1="819.42" y1="359.30" x2="819.42" y2="364.20" stroke="#000" stroke-width="1.1"/>
<text x="819.42" y="380.80" font-size="13.89" text-anchor="middle">25</text>
<line x1="863.55" y1="359.30" x2="863.55" y2="364.20" stroke="#000" stroke-width="1.1"/>
<text x="863.55" y="380.80" font-size="13.89" text-anchor="middle">50</text>
<line x1="907.67" y1="359.30" x2="907.67" y2="364.20" stroke="#000" stroke-width="1.1"/>
<text x="907.67" y="380.80" font-size="13.89" text-anchor="middle">75</text>
<line x1="951.80" y1="359.30" x2="951.80" y2="364.20" stroke="#000" stroke-width="1.1"/>
<text x="951.80" y="380.80" font-size="13.89" text-anchor="middle">100</text>
<line x1="995.92" y1="359.30" x2="995.92" y2="364.20" stroke="#000" stroke-width="1.1"/>
<text x="995.92" y="380.80" font-size="13.89" text-anchor="middle">125</text>
<line x1="1040.05" y1="359.30" x2="1040.05" y2="364.20" stroke="#000" stroke-width="1.1"/>
<text x="1040.05" y="380.80" font-size="13.89" text-anchor="middle">150</text>
<line x1="1084.10" y1="359.30" x2="1089.00" y2="359.30" stroke="#000" stroke-width="1.1"/>
<line x1="784.50" y1="359.30" x2="789.40" y2="359.30" stroke="#000" stroke-width="1.1"/>
<text x="1090.30" y="365.90" font-size="13.89" text-anchor="start">0.0</text>
<line x1="1084.10" y1="302.12" x2="1089.00" y2="302.12" stroke="#000" stroke-width="1.1"/>
<line x1="784.50" y1="302.12" x2="789.40" y2="302.12" stroke="#000" stroke-width="1.1"/>
<text x="1090.30" y="308.72" font-size="13.89" text-anchor="start">0.2</text>
<line x1="1084.10" y1="244.94" x2="1089.00" y2="244.94" stroke="#000" stroke-width="1.1"/>
<line x1="784.50" y1="244.94" x2="789.40" y2="244.94" stroke="#000" stroke-width="1.1"/>
<text x="1090.30" y="251.54" font-size="13.89" text-anchor="start">0.4</text>
<line x1="1084.10" y1="187.76" x2="1089.00" y2="187.76" stroke="#000" stroke-width="1.1"/>
<line x1="784.50" y1="187.76" x2="789.40" y2="187.76" stroke="#000" stroke-width="1.1"/>
<text x="1090.30" y="194.36" font-size="13.89" text-anchor="start">0.6</text>
<line x1="1084.10" y1="130.58" x2="1089.00" y2="130.58" stroke="#000" stroke-width="1.1"/>
<line x1="784.50" y1="130.58" x2="789.40" y2="130.58" stroke="#000" stroke-width="1.1"/>
<text x="1090.30" y="137.18" font-size="13.89" text-anchor="start">0.8</text>
<line x1="1084.10" y1="73.40" x2="1089.00" y2="73.40" stroke="#000" stroke-width="1.1"/>
<line x1="784.50" y1="73.40" x2="789.40" y2="73.40" stroke="#000" stroke-width="1.1"/>
<text x="1090.30" y="80.00" font-size="13.89" text-anchor="start">1.0</text>
<text transform="translate(1127.50,210.50) rotate(-90)" font-size="13.89" text-anchor="middle">Relative Prob</text>
<line x1="762.00" y1="396.50" x2="793.00" y2="396.50" stroke="#000" stroke-width="2.08"/>
<text x="806.50" y="402.00" font-size="15.28" text-anchor="start">D-PRINT average</text>
<line x1="966.5" y1="396.5" x2="997.5" y2="396.5" stroke="#a9a9a9" stroke-width="5.55" stroke-dasharray="5.55 9.16"/>
<text x="1009.00" y="402.00" font-size="15.28" text-anchor="start">JTWC official</text>
<text x="584.00" y="442.30" font-size="19.44" text-anchor="middle">D-PRINT SHAP Values for 2025_12W: updated at 20250728 0510 UTC</text>
<clipPath id="cm"><rect x="82.6" y="453.5" width="1006.1" height="349.70000000000005"/></clipPath>
<g clip-path="url(#cm)">
<rect x="82.60" y="713.10" width="1006.10" height="7.00" fill="#e6e6e6" stroke="none" stroke-width="1"/>
<polyline points="111.4,776.1 118.4,765.3 121.3,777.5 126.6,774.3 130.9,774.6 135.3,773.4 139.7,776.6 145.5,776.9 151.3,776.9 157.1,773.1 163.0,771.4 168.8,773.4 174.6,773.4 180.4,773.1 184.8,770.8 189.2,767.3 195.0,764.7 198.8,768.8 202.3,768.2 205.2,766.2 209.5,765.9 213.9,768.2 219.7,763.8 224.1,765.0 229.9,769.7 232.8,769.9 237.2,765.6 242.4,770.2 247.4,769.4 254.1,769.1 258.2,772.3 262.0,775.5 266.3,770.8 272.1,770.5 278.0,768.8 283.8,772.6 288.2,772.3 294.6,775.5 299.8,772.9 305.6,773.1 310.0,774.3 312.9,771.1 318.7,771.7 326.0,768.2 329.8,771.7 335.6,766.2 339.1,767.0 344.3,769.4 349.3,765.6 353.7,768.5 359.5,765.9 362.4,773.4 366.8,772.6 372.6,771.1 376.9,766.4 381.3,761.5 385.7,764.7 391.5,763.8 398.8,761.5 403.1,762.1 409.0,766.4 410.0,766.4 417.3,763.8 421.6,762.1 424.0,751.9 427.5,762.1 433.3,757.1 437.7,760.0 442.0,763.5 446.4,763.0 453.7,758.3 458.0,760.6 462.4,763.0 466.8,762.1 475.5,756.8 477.0,759.2 482.8,753.3 487.1,754.2 493.0,756.3 497.3,754.8 504.6,749.9 510.4,752.8 514.8,753.9 520.0,750.4 526.4,751.3 535.2,752.8 539.5,757.1 543.9,762.1 547.4,759.2 552.1,744.6 556.4,754.2 561.4,751.3 566.6,765.9 571.6,763.0 575.9,760.6 580.3,765.0 587.6,761.2 594.9,757.7 600.7,753.9 604.5,757.1 609.4,763.5 613.8,762.1 617.3,756.8 621.1,758.3 626.9,754.8 632.7,749.9 640.0,751.3 644.4,746.1 651.6,751.3 658.9,754.2 666.2,749.6 673.5,743.2 679.3,745.5 686.6,751.3 692.4,746.1 696.8,741.7 699.7,741.1 705.5,733.8 709.9,741.1 714.2,741.1 718.6,727.1 724.4,729.2 727.3,737.3 733.1,733.0 737.5,733.0 743.1,726.4 747.7,730.8 751.7,734.8 755.4,734.8 759.1,727.1 764.0,720.3 769.3,720.3 772.4,724.0 775.5,730.1 779.5,721.5 783.8,724.0 789.3,731.7 793.9,716.3 798.0,695.6 802.6,708.6 807.2,697.2 811.5,702.4 816.4,708.6 818.6,720.9 821.7,725.5 827.9,720.9 832.5,716.3 838.6,717.8 843.3,720.9 849.4,720.3 853.4,706.1 858.7,706.4 863.3,707.0 867.0,703.0 871.9,711.7 877.2,719.4 881.8,718.4 886.4,738.8 891.0,739.4 895.7,722.4 899.7,728.6 903.4,717.2 908.9,712.6 912.6,718.4 918.2,727.1 921.9,719.4 924.3,722.4 928.7,730.8 933.6,722.4 937.3,720.3 941.9,725.5 946.5,727.7 949.6,708.0 952.7,716.3 955.8,724.9 961.9,723.4 968.1,724.0 974.3,725.5 978.0,728.6 980.4,712.6 983.5,711.7 987.5,671.6 990.3,670.0 994.3,682.4 998.9,697.8 1002.0,668.5 1006.6,682.4 1011.3,698.4 1015.9,696.2 1020.5,695.6 1025.1,702.4 1029.8,703.0 1034.4,710.1 1037.5,716.3 1042.1,724.0 1048.3,713.2 1052.9,722.4 1058.1,730.8 1062.1,723.4 1067.4,725.5 1071.4,717.8 1076.0,724.9 1082.2,724.6 1088.0,724.0" fill="none" stroke="#dc143c" stroke-width="2.6" stroke-linejoin="round"/>
<polyline points="111.4,720.4 113.5,721.5 118.0,725.5 121.0,720.8 199.0,720.6 201.5,729.5 204.0,720.6 226.0,720.5 229.0,724.5 231.0,720.4 420.0,720.3 424.0,725.0 426.0,720.3 600.0,719.0 820.0,716.6 900.0,715.6 1000.0,714.2 1040.0,715.4 1088.0,716.2" fill="none" stroke="#40e8f0" stroke-width="2.6" stroke-linejoin="round"/>
<polyline points="111.4,721.3 300.0,721.8 500.0,722.1 700.0,722.4 900.0,721.8 960.0,721.0 1088.0,720.4" fill="none" stroke="#3cb44b" stroke-width="2.6" stroke-linejoin="round"/>
<polyline points="111.4,720.4 113.0,719.0 118.0,716.3 122.0,720.2 199.0,719.6 201.5,716.5 204.0,719.4 300.0,719.0 420.0,718.6 560.0,718.2 650.0,718.0 760.0,718.6 900.0,718.6 1000.0,719.6 1088.0,720.2" fill="none" stroke="#f032e6" stroke-width="2.6" stroke-linejoin="round"/>
<polyline points="111.4,720.6 300.0,720.4 420.0,720.2 540.0,719.8 600.0,718.6 700.0,717.0 760.0,716.6 772.0,716.9 776.0,715.3 900.0,715.5 945.0,716.6 950.0,715.4 1040.0,714.4 1088.0,715.0" fill="none" stroke="#f58231" stroke-width="2.6" stroke-linejoin="round"/>
<polyline points="93.8,792.3 149.5,781.3 205.2,781.3 260.9,770.4 316.6,770.4 372.2,759.5 427.9,759.5 483.6,748.6 539.3,748.6 595.0,737.6 706.4,737.6 817.8,715.8 873.4,704.8 929.1,683.0 984.8,672.0 1089.0,672.0" fill="none" stroke="#000" stroke-width="2.8" stroke-linejoin="round"/>
</g>
<rect x="82.60" y="453.50" width="1006.10" height="349.70" fill="none" stroke="#000" stroke-width="1.1"/>
<line x1="77.70" y1="803.24" x2="82.60" y2="803.24" stroke="#000" stroke-width="1.1"/>
<text x="72.80" y="809.34" font-size="15.28" text-anchor="end">-40</text>
<line x1="79.80" y1="781.38" x2="82.60" y2="781.38" stroke="#000" stroke-width="0.85"/>
<line x1="77.70" y1="759.52" x2="82.60" y2="759.52" stroke="#000" stroke-width="1.1"/>
<text x="72.80" y="765.62" font-size="15.28" text-anchor="end">-20</text>
<line x1="79.80" y1="737.66" x2="82.60" y2="737.66" stroke="#000" stroke-width="0.85"/>
<line x1="77.70" y1="715.80" x2="82.60" y2="715.80" stroke="#000" stroke-width="1.1"/>
<text x="72.80" y="721.90" font-size="15.28" text-anchor="end">0</text>
<line x1="79.80" y1="693.94" x2="82.60" y2="693.94" stroke="#000" stroke-width="0.85"/>
<line x1="77.70" y1="672.08" x2="82.60" y2="672.08" stroke="#000" stroke-width="1.1"/>
<text x="72.80" y="678.18" font-size="15.28" text-anchor="end">20</text>
<line x1="79.80" y1="650.22" x2="82.60" y2="650.22" stroke="#000" stroke-width="0.85"/>
<line x1="77.70" y1="628.36" x2="82.60" y2="628.36" stroke="#000" stroke-width="1.1"/>
<text x="72.80" y="634.46" font-size="15.28" text-anchor="end">40</text>
<line x1="79.80" y1="606.50" x2="82.60" y2="606.50" stroke="#000" stroke-width="0.85"/>
<line x1="77.70" y1="584.64" x2="82.60" y2="584.64" stroke="#000" stroke-width="1.1"/>
<text x="72.80" y="590.74" font-size="15.28" text-anchor="end">60</text>
<line x1="79.80" y1="562.78" x2="82.60" y2="562.78" stroke="#000" stroke-width="0.85"/>
<line x1="77.70" y1="540.92" x2="82.60" y2="540.92" stroke="#000" stroke-width="1.1"/>
<text x="72.80" y="547.02" font-size="15.28" text-anchor="end">80</text>
<line x1="79.80" y1="519.06" x2="82.60" y2="519.06" stroke="#000" stroke-width="0.85"/>
<line x1="77.70" y1="497.20" x2="82.60" y2="497.20" stroke="#000" stroke-width="1.1"/>
<text x="72.80" y="503.30" font-size="15.28" text-anchor="end">100</text>
<line x1="79.80" y1="475.34" x2="82.60" y2="475.34" stroke="#000" stroke-width="0.85"/>
<line x1="77.70" y1="453.48" x2="82.60" y2="453.48" stroke="#000" stroke-width="1.1"/>
<text x="72.80" y="459.58" font-size="15.28" text-anchor="end">120</text>
<line x1="1088.70" y1="803.20" x2="1093.60" y2="803.20" stroke="#000" stroke-width="1.1"/>
<text x="1096.90" y="809.50" font-size="15.28" text-anchor="start">20</text>
<line x1="1088.70" y1="781.34" x2="1091.50" y2="781.34" stroke="#000" stroke-width="0.85"/>
<line x1="1088.70" y1="759.48" x2="1093.60" y2="759.48" stroke="#000" stroke-width="1.1"/>
<text x="1096.90" y="765.78" font-size="15.28" text-anchor="start">40</text>
<line x1="1088.70" y1="737.62" x2="1091.50" y2="737.62" stroke="#000" stroke-width="0.85"/>
<line x1="1088.70" y1="715.76" x2="1093.60" y2="715.76" stroke="#000" stroke-width="1.1"/>
<text x="1096.90" y="722.06" font-size="15.28" text-anchor="start">60</text>
<line x1="1088.70" y1="693.90" x2="1091.50" y2="693.90" stroke="#000" stroke-width="0.85"/>
<line x1="1088.70" y1="672.04" x2="1093.60" y2="672.04" stroke="#000" stroke-width="1.1"/>
<text x="1096.90" y="678.34" font-size="15.28" text-anchor="start">80</text>
<line x1="1088.70" y1="650.18" x2="1091.50" y2="650.18" stroke="#000" stroke-width="0.85"/>
<line x1="1088.70" y1="628.32" x2="1093.60" y2="628.32" stroke="#000" stroke-width="1.1"/>
<text x="1096.90" y="634.62" font-size="15.28" text-anchor="start">100</text>
<line x1="1088.70" y1="606.46" x2="1091.50" y2="606.46" stroke="#000" stroke-width="0.85"/>
<line x1="1088.70" y1="584.60" x2="1093.60" y2="584.60" stroke="#000" stroke-width="1.1"/>
<text x="1096.90" y="590.90" font-size="15.28" text-anchor="start">120</text>
<line x1="1088.70" y1="562.74" x2="1091.50" y2="562.74" stroke="#000" stroke-width="0.85"/>
<line x1="1088.70" y1="540.88" x2="1093.60" y2="540.88" stroke="#000" stroke-width="1.1"/>
<text x="1096.90" y="547.18" font-size="15.28" text-anchor="start">140</text>
<line x1="1088.70" y1="519.02" x2="1091.50" y2="519.02" stroke="#000" stroke-width="0.85"/>
<line x1="1088.70" y1="497.16" x2="1093.60" y2="497.16" stroke="#000" stroke-width="1.1"/>
<text x="1096.90" y="503.46" font-size="15.28" text-anchor="start">160</text>
<line x1="1088.70" y1="475.30" x2="1091.50" y2="475.30" stroke="#000" stroke-width="0.85"/>
<line x1="1088.70" y1="453.44" x2="1093.60" y2="453.44" stroke="#000" stroke-width="1.1"/>
<text x="1096.90" y="459.74" font-size="15.28" text-anchor="start">180</text>
<text transform="translate(33.50,628.00) rotate(-90)" font-size="15.28" text-anchor="middle">SHAP Value [kts]</text>
<text transform="translate(1143.50,628.00) rotate(-90)" font-size="15.28" text-anchor="middle">Working Best Track TC Intensity [kt]</text>
<line x1="93.81" y1="803.20" x2="93.81" y2="806.00" stroke="#000" stroke-width="0.85"/>
<line x1="149.50" y1="803.20" x2="149.50" y2="808.10" stroke="#000" stroke-width="1.1"/>
<text x="149.50" y="827.50" font-size="15.28" text-anchor="middle" style="font-kerning:none">07/24</text>
<line x1="205.19" y1="803.20" x2="205.19" y2="806.00" stroke="#000" stroke-width="0.85"/>
<line x1="260.88" y1="803.20" x2="260.88" y2="806.00" stroke="#000" stroke-width="0.85"/>
<line x1="316.56" y1="803.20" x2="316.56" y2="806.00" stroke="#000" stroke-width="0.85"/>
<line x1="372.25" y1="803.20" x2="372.25" y2="808.10" stroke="#000" stroke-width="1.1"/>
<text x="372.25" y="827.50" font-size="15.28" text-anchor="middle" style="font-kerning:none">07/25</text>
<line x1="427.94" y1="803.20" x2="427.94" y2="806.00" stroke="#000" stroke-width="0.85"/>
<line x1="483.62" y1="803.20" x2="483.62" y2="806.00" stroke="#000" stroke-width="0.85"/>
<line x1="539.31" y1="803.20" x2="539.31" y2="806.00" stroke="#000" stroke-width="0.85"/>
<line x1="595.00" y1="803.20" x2="595.00" y2="808.10" stroke="#000" stroke-width="1.1"/>
<text x="595.00" y="827.50" font-size="15.28" text-anchor="middle" style="font-kerning:none">07/26</text>
<line x1="650.69" y1="803.20" x2="650.69" y2="806.00" stroke="#000" stroke-width="0.85"/>
<line x1="706.38" y1="803.20" x2="706.38" y2="806.00" stroke="#000" stroke-width="0.85"/>
<line x1="762.06" y1="803.20" x2="762.06" y2="806.00" stroke="#000" stroke-width="0.85"/>
<line x1="817.75" y1="803.20" x2="817.75" y2="808.10" stroke="#000" stroke-width="1.1"/>
<text x="817.75" y="827.50" font-size="15.28" text-anchor="middle" style="font-kerning:none">07/27</text>
<line x1="873.44" y1="803.20" x2="873.44" y2="806.00" stroke="#000" stroke-width="0.85"/>
<line x1="929.12" y1="803.20" x2="929.12" y2="806.00" stroke="#000" stroke-width="0.85"/>
<line x1="984.81" y1="803.20" x2="984.81" y2="806.00" stroke="#000" stroke-width="0.85"/>
<line x1="1040.50" y1="803.20" x2="1040.50" y2="808.10" stroke="#000" stroke-width="1.1"/>
<text x="1040.50" y="827.50" font-size="15.28" text-anchor="middle" style="font-kerning:none">07/28</text>
<text x="584.00" y="846.00" font-size="15.28" text-anchor="middle">2025</text>
<text x="211.00" y="866.30" font-size="15.28" text-anchor="start">SHAP values:</text>
<line x1="342.00" y1="860.80" x2="373.00" y2="860.80" stroke="#dc143c" stroke-width="2.8" stroke-linecap="square"/>
<text x="386.00" y="866.30" font-size="15.28" text-anchor="start">IR</text>
<line x1="430.50" y1="860.80" x2="461.50" y2="860.80" stroke="#40e8f0" stroke-width="2.8" stroke-linecap="square"/>
<text x="474.00" y="866.30" font-size="15.28" text-anchor="start">History</text>
<line x1="558.50" y1="860.80" x2="589.50" y2="860.80" stroke="#3cb44b" stroke-width="2.8" stroke-linecap="square"/>
<text x="602.00" y="866.30" font-size="15.28" text-anchor="start">Position</text>
<line x1="691.50" y1="860.80" x2="722.50" y2="860.80" stroke="#f032e6" stroke-width="2.8" stroke-linecap="square"/>
<text x="735.00" y="866.30" font-size="15.28" text-anchor="start">Environment</text>
<line x1="862.50" y1="860.80" x2="893.50" y2="860.80" stroke="#f58231" stroke-width="2.8" stroke-linecap="square"/>
<text x="906.50" y="866.30" font-size="15.28" text-anchor="start">GFS Thermo</text>
<line x1="517.00" y1="883.00" x2="548.00" y2="883.00" stroke="#000" stroke-width="2.8" stroke-linecap="square"/>
<text x="560.00" y="888.50" font-size="15.28" text-anchor="start">TC Intensity</text>
<text x="333.50" y="919.00" font-size="13.17" text-anchor="middle" fill="#111">Shap values for 2025_12W at 20250728 0510UTC</text>
<rect x="67.60" y="1101.26" width="400.50" height="103.77" fill="#f4f4f4" stroke="none" stroke-width="1"/>
<rect x="67.60" y="1377.98" width="400.50" height="276.72" fill="#f4f4f4" stroke="none" stroke-width="1"/>
<path d="M67.6,962.90H468.1M67.6,997.49H468.1M67.6,1032.08H468.1M67.6,1066.66H468.1M67.6,1101.26H468.1M67.6,1135.85H468.1M67.6,1170.44H468.1M67.6,1205.03H468.1M67.6,1239.62H468.1M67.6,1274.21H468.1M67.6,1308.80H468.1M67.6,1343.39H468.1M67.6,1377.98H468.1M67.6,1412.57H468.1M67.6,1447.16H468.1M67.6,1481.75H468.1M67.6,1516.34H468.1M67.6,1550.93H468.1M67.6,1585.52H468.1M67.6,1620.11H468.1M67.6,1654.70H468.1M67.6,1689.29H468.1M67.6,1723.88H468.1M67.6,1758.47H468.1M67.6,1793.06H468.1M67.6,1827.65H468.1M67.6,1862.24H468.1M67.6,1896.83H468.1M67.6,1931.42H468.1M67.6,1966.01H468.1M67.6,2000.60H468.1" stroke="#e4e4e4" stroke-width="1" fill="none"/>
<path d="M67.6,945.60H468.1M67.6,980.19H468.1M67.6,1014.78H468.1M67.6,1049.37H468.1M67.6,1083.96H468.1M67.6,1118.55H468.1M67.6,1153.14H468.1M67.6,1187.73H468.1M67.6,1222.32H468.1M67.6,1256.91H468.1M67.6,1291.50H468.1M67.6,1326.09H468.1M67.6,1360.68H468.1M67.6,1395.27H468.1M67.6,1429.86H468.1M67.6,1464.45H468.1M67.6,1499.04H468.1M67.6,1533.63H468.1M67.6,1568.22H468.1M67.6,1602.81H468.1M67.6,1637.40H468.1M67.6,1671.99H468.1M67.6,1706.58H468.1M67.6,1741.17H468.1M67.6,1775.76H468.1M67.6,1810.35H468.1M67.6,1844.94H468.1M67.6,1879.53H468.1M67.6,1914.12H468.1M67.6,1948.71H468.1M67.6,1983.30H468.1M67.6,2017.89H468.1" stroke="#ececec" stroke-width="0.7" stroke-dasharray="1 2" fill="none"/>
<line x1="331.00" y1="928.31" x2="331.00" y2="2035.18" stroke="#999" stroke-width="1.1"/>
<g font-size="8.3" fill="#1a1a1a">
<text x="62.4" y="948.90" text-anchor="end">0h_old_IR</text>
<text x="472.9" y="944.50">0h old IR data</text>
<text x="472.9" y="953.40">(128x128 grid points)</text>
<text x="62.4" y="983.49" text-anchor="end">3h_old_IR</text>
<text x="472.9" y="979.09">3h old IR data</text>
<text x="472.9" y="987.99">(128x128 grid points)</text>
<text x="62.4" y="1018.08" text-anchor="end">6h_old_IR</text>
<text x="472.9" y="1013.68">6h old IR data</text>
<text x="472.9" y="1022.58">(128x128 grid points)</text>
<text x="62.4" y="1052.67" text-anchor="end">9h_old_IR</text>
<text x="472.9" y="1048.27">9h old IR data</text>
<text x="472.9" y="1057.17">(128x128 grid points)</text>
<text x="62.4" y="1087.26" text-anchor="end">12h_old_IR</text>
<text x="472.9" y="1082.86">12h old IR data</text>
<text x="472.9" y="1091.76">(128x128 grid points)</text>
<text x="62.4" y="1121.85" text-anchor="end">DELV</text>
<text x="472.9" y="1121.55">-12h to 0h Intensity change</text>
<text x="62.4" y="1156.44" text-anchor="end">HIST</text>
<text x="472.9" y="1152.04">The # of 6h periods VMAX</text>
<text x="472.9" y="1160.94">has been above 20kt</text>
<text x="62.4" y="1191.03" text-anchor="end">SPD</text>
<text x="472.9" y="1190.73">TC Translation Speed</text>
<text x="62.4" y="1225.62" text-anchor="end">sin_lat</text>
<text x="472.9" y="1225.32">Sine of Latitude</text>
<text x="62.4" y="1260.21" text-anchor="end">cos_lon</text>
<text x="472.9" y="1259.91">Cosine of Longitude</text>
<text x="62.4" y="1294.80" text-anchor="end">sin_lon</text>
<text x="472.9" y="1294.50">Sine of Longitude</text>
<text x="62.4" y="1329.39" text-anchor="end">DTL</text>
<text x="472.9" y="1329.09">Distance to Land</text>
<text x="62.4" y="1363.98" text-anchor="end">sin_local_time</text>
<text x="472.9" y="1359.58">Sine of Time of Day</text>
<text x="472.9" y="1368.48">(Local Solar Time)</text>
<text x="62.4" y="1398.57" text-anchor="end">SHRD</text>
<text x="472.9" y="1398.27">850-200hPa shear (200-800 km)</text>
<text x="62.4" y="1433.16" text-anchor="end">SHDC</text>
<text x="472.9" y="1428.76">850-200hPa shear with</text>
<text x="472.9" y="1437.66">vortex removed (0-500 km)</text>
<text x="62.4" y="1467.75" text-anchor="end">SHRS</text>
<text x="472.9" y="1467.45">850-500hPa shear (200-800 km)</text>
<text x="62.4" y="1502.34" text-anchor="end">MPI</text>
<text x="472.9" y="1502.04">Maximum potential intensity</text>
<text x="62.4" y="1536.93" text-anchor="end">RSST</text>
<text x="472.9" y="1536.63">Reynolds SST</text>
<text x="62.4" y="1571.52" text-anchor="end">COHC</text>
<text x="472.9" y="1571.22">Climatological Ocean Heat Content</text>
<text x="62.4" y="1606.11" text-anchor="end">CD26</text>
<text x="472.9" y="1601.71">Climatological depth of</text>
<text x="472.9" y="1610.61">26° C isotherm</text>
<text x="62.4" y="1640.70" text-anchor="end">CD20</text>
<text x="472.9" y="1636.30">Climatological depth of</text>
<text x="472.9" y="1645.20">20° C isotherm</text>
<text x="62.4" y="1675.29" text-anchor="end">DIVC</text>
<text x="472.9" y="1670.89">200hPa divergence centered at</text>
<text x="472.9" y="1679.79">850hPa vortex location</text>
<text x="62.4" y="1709.88" text-anchor="end">V300</text>
<text x="472.9" y="1705.48">300hPa tangential wind azimuthally</text>
<text x="472.9" y="1714.38">averaged at 500 km</text>
<text x="62.4" y="1744.47" text-anchor="end">V500</text>
<text x="472.9" y="1740.07">500hPa tangential wind azimuthally</text>
<text x="472.9" y="1748.97">averaged at 500 km</text>
<text x="62.4" y="1779.06" text-anchor="end">V850</text>
<text x="472.9" y="1774.66">850hPa tangential wind azimuthally</text>
<text x="472.9" y="1783.56">averaged at 500 km</text>
<text x="62.4" y="1813.65" text-anchor="end">Z850</text>
<text x="472.9" y="1813.35">850hPa vorticity (0-1000 km)</text>
<text x="62.4" y="1848.24" text-anchor="end">U200</text>
<text x="472.9" y="1847.94">200hPa zonal wind (200-800 km)</text>
<text x="62.4" y="1882.83" text-anchor="end">U20C</text>
<text x="472.9" y="1882.53">200hPa zonal wind (0-500 km)</text>
<text x="62.4" y="1917.42" text-anchor="end">V20C</text>
<text x="472.9" y="1917.12">200hPa meridional wind (0-500 km)</text>
<text x="62.4" y="1952.01" text-anchor="end">RHMD</text>
<text x="472.9" y="1947.61">700-500hPa relative humidity</text>
<text x="472.9" y="1956.51">(200-800 km)</text>
<text x="62.4" y="1986.60" text-anchor="end">EPSS</text>
<text x="472.9" y="1981.40">Avg. Δ <tspan font-style="italic">θ</tspan><tspan font-style="italic" font-size="5.8" dy="1.6">e</tspan><tspan dy="-1.6"> (only +) btwn parcel lifted from</tspan></text>
<text x="472.9" y="1991.60">sfc. and saturated env. <tspan font-style="italic">θ</tspan><tspan font-style="italic" font-size="5.8" dy="1.6">e</tspan><tspan dy="-1.6"> (200-800 km)</tspan></text>
<text x="62.4" y="2021.19" text-anchor="end">ENSS</text>
<text x="472.9" y="2015.99">Avg. Δ <tspan font-style="italic">θ</tspan><tspan font-style="italic" font-size="5.8" dy="1.6">e</tspan><tspan dy="-1.6"> (only -) btwn parcel lifted from</tspan></text>
<text x="472.9" y="2026.19">sfc. and saturated env. <tspan font-style="italic">θ</tspan><tspan font-style="italic" font-size="5.8" dy="1.6">e</tspan><tspan dy="-1.6"> (200-800 km)</tspan></text>
</g>
<path d="M65.2,945.60H67.6M468.1,945.60h2.4M65.2,980.19H67.6M468.1,980.19h2.4M65.2,1014.78H67.6M468.1,1014.78h2.4M65.2,1049.37H67.6M468.1,1049.37h2.4M65.2,1083.96H67.6M468.1,1083.96h2.4M65.2,1118.55H67.6M468.1,1118.55h2.4M65.2,1153.14H67.6M468.1,1153.14h2.4M65.2,1187.73H67.6M468.1,1187.73h2.4M65.2,1222.32H67.6M468.1,1222.32h2.4M65.2,1256.91H67.6M468.1,1256.91h2.4M65.2,1291.50H67.6M468.1,1291.50h2.4M65.2,1326.09H67.6M468.1,1326.09h2.4M65.2,1360.68H67.6M468.1,1360.68h2.4M65.2,1395.27H67.6M468.1,1395.27h2.4M65.2,1429.86H67.6M468.1,1429.86h2.4M65.2,1464.45H67.6M468.1,1464.45h2.4M65.2,1499.04H67.6M468.1,1499.04h2.4M65.2,1533.63H67.6M468.1,1533.63h2.4M65.2,1568.22H67.6M468.1,1568.22h2.4M65.2,1602.81H67.6M468.1,1602.81h2.4M65.2,1637.40H67.6M468.1,1637.40h2.4M65.2,1671.99H67.6M468.1,1671.99h2.4M65.2,1706.58H67.6M468.1,1706.58h2.4M65.2,1741.17H67.6M468.1,1741.17h2.4M65.2,1775.76H67.6M468.1,1775.76h2.4M65.2,1810.35H67.6M468.1,1810.35h2.4M65.2,1844.94H67.6M468.1,1844.94h2.4M65.2,1879.53H67.6M468.1,1879.53h2.4M65.2,1914.12H67.6M468.1,1914.12h2.4M65.2,1948.71H67.6M468.1,1948.71h2.4M65.2,1983.30H67.6M468.1,1983.30h2.4M65.2,2017.89H67.6M468.1,2017.89h2.4" stroke="#444" stroke-width="0.8" fill="none"/>
<text x="464.30" y="945.20" font-size="9.0" text-anchor="end" fill="#1a1a1a">Satellite SHAP=-4.2kts</text>
<line x1="67.60" y1="1101.26" x2="468.10" y2="1101.26" stroke="#111" stroke-width="1.7"/>
<text x="464.30" y="1118.15" font-size="9.0" text-anchor="end" fill="#1a1a1a">History SHAP=0.1kts</text>
<line x1="67.60" y1="1205.03" x2="468.10" y2="1205.03" stroke="#111" stroke-width="1.7"/>
<text x="464.30" y="1221.92" font-size="9.0" text-anchor="end" fill="#1a1a1a">Location SHAP=-1.8kts</text>
<line x1="67.60" y1="1377.98" x2="468.10" y2="1377.98" stroke="#111" stroke-width="1.7"/>
<text x="464.30" y="1394.87" font-size="9.0" text-anchor="end" fill="#1a1a1a">Environmental SHAP=-2.1kts</text>
<line x1="67.60" y1="1654.70" x2="468.10" y2="1654.70" stroke="#111" stroke-width="1.7"/>
<text x="464.30" y="1671.59" font-size="9.0" text-anchor="end" fill="#1a1a1a">TC Dynamics SHAP=0.2kts</text>
<circle cx="103.4" cy="945.60" r="3.5" fill="#d6009a"/>
<circle cx="85.9" cy="980.19" r="3.5" fill="#e8007f"/>
<circle cx="375.1" cy="1014.78" r="3.5" fill="#9b2fbf"/>
<circle cx="414.7" cy="1049.37" r="3.5" fill="#d8008f"/>
<circle cx="449.7" cy="1083.96" r="3.5" fill="#cc0099"/>
<circle cx="331.6" cy="1118.55" r="3.5" fill="#0a7cf0"/>
<circle cx="332.2" cy="1153.14" r="3.5" fill="#6a5ae0"/>
<circle cx="330.5" cy="1187.73" r="3.5" fill="#d8008f"/>
<circle cx="367.2" cy="1222.32" r="3.5" fill="#a81fa8"/>
<circle cx="302.8" cy="1256.91" r="3.5" fill="#a02ab5"/>
<circle cx="222.6" cy="1291.50" r="3.5" fill="#c000a0"/>
<circle cx="332.8" cy="1326.09" r="3.5" fill="#6a5ae0"/>
<circle cx="333.3" cy="1360.68" r="3.5" fill="#c8109b"/>
<circle cx="328.2" cy="1395.27" r="3.5" fill="#d8008f"/>
<circle cx="328.8" cy="1429.86" r="3.5" fill="#9a40c8"/>
<circle cx="330.5" cy="1464.45" r="3.5" fill="#e0108a"/>
<circle cx="330.5" cy="1499.04" r="3.5" fill="#d8108f"/>
<circle cx="240.7" cy="1533.63" r="3.5" fill="#7a50d8"/>
<circle cx="361.0" cy="1568.22" r="3.5" fill="#5560e0"/>
<circle cx="306.8" cy="1602.81" r="3.5" fill="#e01080"/>
<circle cx="305.1" cy="1637.40" r="3.5" fill="#0a80f0"/>
<circle cx="325.4" cy="1671.99" r="3.5" fill="#f0105a"/>
<circle cx="349.2" cy="1706.58" r="3.5" fill="#1080f0"/>
<circle cx="347.5" cy="1741.17" r="3.5" fill="#f01060"/>
<circle cx="337.9" cy="1775.76" r="3.5" fill="#1080f0"/>
<circle cx="316.4" cy="1810.35" r="3.5" fill="#0a80f0"/>
<circle cx="328.2" cy="1844.94" r="3.5" fill="#1890f0"/>
<circle cx="318.6" cy="1879.53" r="3.5" fill="#1088f0"/>
<circle cx="332.2" cy="1914.12" r="3.5" fill="#1088f0"/>
<circle cx="324.9" cy="1948.71" r="3.5" fill="#c010a0"/>
<circle cx="327.7" cy="1983.30" r="3.5" fill="#b020b0"/>
<circle cx="336.2" cy="2017.89" r="3.5" fill="#9a40c8"/>
<rect x="67.60" y="928.31" width="400.50" height="1106.88" fill="none" stroke="#444" stroke-width="1.0"/>
<line x1="119.80" y1="2035.18" x2="119.80" y2="2037.78" stroke="#444" stroke-width="0.8"/>
<text x="119.80" y="2046.48" font-size="8.3" text-anchor="middle" fill="#1a1a1a">−4</text>
<line x1="172.60" y1="2035.18" x2="172.60" y2="2037.78" stroke="#444" stroke-width="0.8"/>
<text x="172.60" y="2046.48" font-size="8.3" text-anchor="middle" fill="#1a1a1a">−3</text>
<line x1="225.40" y1="2035.18" x2="225.40" y2="2037.78" stroke="#444" stroke-width="0.8"/>
<text x="225.40" y="2046.48" font-size="8.3" text-anchor="middle" fill="#1a1a1a">−2</text>
<line x1="278.20" y1="2035.18" x2="278.20" y2="2037.78" stroke="#444" stroke-width="0.8"/>
<text x="278.20" y="2046.48" font-size="8.3" text-anchor="middle" fill="#1a1a1a">−1</text>
<line x1="331.00" y1="2035.18" x2="331.00" y2="2037.78" stroke="#444" stroke-width="0.8"/>
<text x="331.00" y="2046.48" font-size="8.3" text-anchor="middle" fill="#1a1a1a">0</text>
<line x1="383.80" y1="2035.18" x2="383.80" y2="2037.78" stroke="#444" stroke-width="0.8"/>
<text x="383.80" y="2046.48" font-size="8.3" text-anchor="middle" fill="#1a1a1a">1</text>
<line x1="436.60" y1="2035.18" x2="436.60" y2="2037.78" stroke="#444" stroke-width="0.8"/>
<text x="436.60" y="2046.48" font-size="8.3" text-anchor="middle" fill="#1a1a1a">2</text>
<text x="267.30" y="2059.50" font-size="11.13" text-anchor="middle" fill="#1a1a1a">SHAP Value [kts]</text>
<linearGradient id="fv" x1="0" x2="1" y1="0" y2="0"><stop offset="0" stop-color="#0592ff"/><stop offset="0.18" stop-color="#0370ea"/><stop offset="0.24" stop-color="#3366e4"/><stop offset="0.33" stop-color="#6058d8"/><stop offset="0.45" stop-color="#8a3fc6"/><stop offset="0.55" stop-color="#ac1cac"/><stop offset="0.62" stop-color="#c2039e"/><stop offset="0.75" stop-color="#df0586"/><stop offset="0.88" stop-color="#f4036a"/><stop offset="1" stop-color="#ff0052"/></linearGradient>
<rect x="28.80" y="2083.20" width="588.20" height="24.80" fill="url(#fv)" stroke="#222" stroke-width="0.9"/>
<text x="617.00" y="2079.60" font-size="9.66" text-anchor="end" fill="#1a1a1a">Feature Value</text>
<text x="28.90" y="2119.90" font-size="8.6" text-anchor="middle" fill="#1a1a1a">Low</text>
<text x="617.00" y="2119.90" font-size="8.6" text-anchor="middle" fill="#1a1a1a">High</text>
<line x1="28.80" y1="2108.00" x2="28.80" y2="2110.50" stroke="#444" stroke-width="0.8"/>
<line x1="617.00" y1="2108.00" x2="617.00" y2="2110.50" stroke="#444" stroke-width="0.8"/>
<text x="29.1" y="2136" font-size="9.02" fill="#1a1a1a">SHAP Value: Amount each feature [listed on Y-axis] contributes to the predicted intensity above or below <tspan text-decoration="underline">60 kts</tspan></text>
<text x="29.1" y="2150.4" font-size="9.02" fill="#1a1a1a">Feature Value: The value of the feature [listed on Y-axis] for the given TC compared to the training dataset</text>
<text x="717.10" y="915.50" font-size="11.78" text-anchor="start" fill="#111">Comparison of IR SHAP Values for 2025_12W at 20250728 0510UTC</text>
<text x="817.80" y="934.00" font-size="10.95" text-anchor="middle" fill="#111">0h old IR Data</text>
<text x="1055.90" y="934.00" font-size="11.04" text-anchor="middle" fill="#111">SHAP Value=-4.30 kts</text>
<use href="#ir0" transform="translate(717.9,938.1)"/>
<use href="#sh0" transform="translate(955.3,938.1)"/>
<rect x="717.90" y="938.10" width="200.60" height="200.00" fill="none" stroke="#333" stroke-width="0.9"/>
<rect x="955.30" y="938.10" width="200.60" height="200.00" fill="none" stroke="#333" stroke-width="0.9"/>
<text x="727.20" y="1150.70" font-size="9.86" text-anchor="middle" fill="#111">142</text>
<text x="755.50" y="1150.70" font-size="9.86" text-anchor="middle" fill="#111">143</text>
<text x="783.80" y="1150.70" font-size="9.86" text-anchor="middle" fill="#111">144</text>
<text x="812.10" y="1150.70" font-size="9.86" text-anchor="middle" fill="#111">145</text>
<text x="840.40" y="1150.70" font-size="9.86" text-anchor="middle" fill="#111">146</text>
<text x="868.70" y="1150.70" font-size="9.86" text-anchor="middle" fill="#111">147</text>
<text x="897.00" y="1150.70" font-size="9.86" text-anchor="middle" fill="#111">148</text>
<text x="711.60" y="972.70" font-size="9.86" text-anchor="end" fill="#111">28</text>
<text x="711.60" y="1004.05" font-size="9.86" text-anchor="end" fill="#111">27</text>
<text x="711.60" y="1035.40" font-size="9.86" text-anchor="end" fill="#111">26</text>
<text x="711.60" y="1066.75" font-size="9.86" text-anchor="end" fill="#111">25</text>
<text x="711.60" y="1098.10" font-size="9.86" text-anchor="end" fill="#111">24</text>
<text x="711.60" y="1129.45" font-size="9.86" text-anchor="end" fill="#111">23</text>
<path d="M727.2,1138.1v3M965.2,1138.1v3M755.5,1138.1v3M993.5,1138.1v3M783.8,1138.1v3M1021.8,1138.1v3M812.1,1138.1v3M1050.1,1138.1v3M840.4,1138.1v3M1078.4,1138.1v3M868.7,1138.1v3M1106.7,1138.1v3M897.0,1138.1v3M1135.0,1138.1v3M717.9,969.1h-3M955.3,969.1h-3M717.9,1000.5h-3M955.3,1000.5h-3M717.9,1031.8h-3M955.3,1031.8h-3M717.9,1063.2h-3M955.3,1063.2h-3M717.9,1094.5h-3M955.3,1094.5h-3M717.9,1125.8h-3M955.3,1125.8h-3" stroke="#333" stroke-width="0.8" fill="none"/>
<text x="817.80" y="1171.20" font-size="10.95" text-anchor="middle" fill="#111">3h old IR Data</text>
<text x="1055.90" y="1171.20" font-size="11.04" text-anchor="middle" fill="#111">SHAP Value=-4.63 kts</text>
<use href="#ir1" transform="translate(717.9,1175.3)"/>
<use href="#sh1" transform="translate(955.3,1175.3)"/>
<rect x="717.90" y="1175.30" width="200.60" height="200.00" fill="none" stroke="#333" stroke-width="0.9"/>
<rect x="955.30" y="1175.30" width="200.60" height="200.00" fill="none" stroke="#333" stroke-width="0.9"/>
<text x="727.20" y="1387.90" font-size="9.86" text-anchor="middle" fill="#111">142</text>
<text x="755.50" y="1387.90" font-size="9.86" text-anchor="middle" fill="#111">143</text>
<text x="783.80" y="1387.90" font-size="9.86" text-anchor="middle" fill="#111">144</text>
<text x="812.10" y="1387.90" font-size="9.86" text-anchor="middle" fill="#111">145</text>
<text x="840.40" y="1387.90" font-size="9.86" text-anchor="middle" fill="#111">146</text>
<text x="868.70" y="1387.90" font-size="9.86" text-anchor="middle" fill="#111">147</text>
<text x="897.00" y="1387.90" font-size="9.86" text-anchor="middle" fill="#111">148</text>
<text x="711.60" y="1209.70" font-size="9.86" text-anchor="end" fill="#111">28</text>
<text x="711.60" y="1241.10" font-size="9.86" text-anchor="end" fill="#111">27</text>
<text x="711.60" y="1272.50" font-size="9.86" text-anchor="end" fill="#111">26</text>
<text x="711.60" y="1303.90" font-size="9.86" text-anchor="end" fill="#111">25</text>
<text x="711.60" y="1335.30" font-size="9.86" text-anchor="end" fill="#111">24</text>
<text x="711.60" y="1366.70" font-size="9.86" text-anchor="end" fill="#111">23</text>
<path d="M727.2,1375.3v3M965.2,1375.3v3M755.5,1375.3v3M993.5,1375.3v3M783.8,1375.3v3M1021.8,1375.3v3M812.1,1375.3v3M1050.1,1375.3v3M840.4,1375.3v3M1078.4,1375.3v3M868.7,1375.3v3M1106.7,1375.3v3M897.0,1375.3v3M1135.0,1375.3v3M717.9,1206.1h-3M955.3,1206.1h-3M717.9,1237.5h-3M955.3,1237.5h-3M717.9,1268.9h-3M955.3,1268.9h-3M717.9,1300.3h-3M955.3,1300.3h-3M717.9,1331.7h-3M955.3,1331.7h-3M717.9,1363.1h-3M955.3,1363.1h-3" stroke="#333" stroke-width="0.8" fill="none"/>
<text x="817.80" y="1408.40" font-size="10.95" text-anchor="middle" fill="#111">6h old IR Data</text>
<text x="1055.90" y="1408.40" font-size="11.04" text-anchor="middle" fill="#111">SHAP Value=0.85 kts</text>
<use href="#ir2" transform="translate(717.9,1412.5)"/>
<use href="#sh2" transform="translate(955.3,1412.5)"/>
<rect x="717.90" y="1412.50" width="200.60" height="200.00" fill="none" stroke="#333" stroke-width="0.9"/>
<rect x="955.30" y="1412.50" width="200.60" height="200.00" fill="none" stroke="#333" stroke-width="0.9"/>
<text x="727.20" y="1625.10" font-size="9.86" text-anchor="middle" fill="#111">142</text>
<text x="755.50" y="1625.10" font-size="9.86" text-anchor="middle" fill="#111">143</text>
<text x="783.80" y="1625.10" font-size="9.86" text-anchor="middle" fill="#111">144</text>
<text x="812.10" y="1625.10" font-size="9.86" text-anchor="middle" fill="#111">145</text>
<text x="840.40" y="1625.10" font-size="9.86" text-anchor="middle" fill="#111">146</text>
<text x="868.70" y="1625.10" font-size="9.86" text-anchor="middle" fill="#111">147</text>
<text x="897.00" y="1625.10" font-size="9.86" text-anchor="middle" fill="#111">148</text>
<text x="711.60" y="1441.50" font-size="9.86" text-anchor="end" fill="#111">28</text>
<text x="711.60" y="1472.95" font-size="9.86" text-anchor="end" fill="#111">27</text>
<text x="711.60" y="1504.40" font-size="9.86" text-anchor="end" fill="#111">26</text>
<text x="711.60" y="1535.85" font-size="9.86" text-anchor="end" fill="#111">25</text>
<text x="711.60" y="1567.30" font-size="9.86" text-anchor="end" fill="#111">24</text>
<text x="711.60" y="1598.75" font-size="9.86" text-anchor="end" fill="#111">23</text>
<path d="M727.2,1612.5v3M965.2,1612.5v3M755.5,1612.5v3M993.5,1612.5v3M783.8,1612.5v3M1021.8,1612.5v3M812.1,1612.5v3M1050.1,1612.5v3M840.4,1612.5v3M1078.4,1612.5v3M868.7,1612.5v3M1106.7,1612.5v3M897.0,1612.5v3M1135.0,1612.5v3M717.9,1437.9h-3M955.3,1437.9h-3M717.9,1469.4h-3M955.3,1469.4h-3M717.9,1500.8h-3M955.3,1500.8h-3M717.9,1532.2h-3M955.3,1532.2h-3M717.9,1563.7h-3M955.3,1563.7h-3M717.9,1595.2h-3M955.3,1595.2h-3" stroke="#333" stroke-width="0.8" fill="none"/>
<text x="817.80" y="1646.30" font-size="10.95" text-anchor="middle" fill="#111">9h old IR Data</text>
<text x="1055.90" y="1646.30" font-size="11.04" text-anchor="middle" fill="#111">SHAP Value=1.60 kts</text>
<use href="#ir3" transform="translate(717.9,1650.4)"/>
<use href="#sh3" transform="translate(955.3,1650.4)"/>
<rect x="717.90" y="1650.40" width="200.60" height="200.00" fill="none" stroke="#333" stroke-width="0.9"/>
<rect x="955.30" y="1650.40" width="200.60" height="200.00" fill="none" stroke="#333" stroke-width="0.9"/>
<text x="725.20" y="1863.00" font-size="9.86" text-anchor="middle" fill="#111">142</text>
<text x="753.55" y="1863.00" font-size="9.86" text-anchor="middle" fill="#111">143</text>
<text x="781.90" y="1863.00" font-size="9.86" text-anchor="middle" fill="#111">144</text>
<text x="810.25" y="1863.00" font-size="9.86" text-anchor="middle" fill="#111">145</text>
<text x="838.60" y="1863.00" font-size="9.86" text-anchor="middle" fill="#111">146</text>
<text x="866.95" y="1863.00" font-size="9.86" text-anchor="middle" fill="#111">147</text>
<text x="895.30" y="1863.00" font-size="9.86" text-anchor="middle" fill="#111">148</text>
<text x="711.60" y="1657.30" font-size="9.86" text-anchor="end" fill="#111">28</text>
<text x="711.60" y="1688.75" font-size="9.86" text-anchor="end" fill="#111">27</text>
<text x="711.60" y="1720.20" font-size="9.86" text-anchor="end" fill="#111">26</text>
<text x="711.60" y="1751.65" font-size="9.86" text-anchor="end" fill="#111">25</text>
<text x="711.60" y="1783.10" font-size="9.86" text-anchor="end" fill="#111">24</text>
<text x="711.60" y="1814.55" font-size="9.86" text-anchor="end" fill="#111">23</text>
<text x="711.60" y="1846.00" font-size="9.86" text-anchor="end" fill="#111">22</text>
<path d="M725.2,1850.4v3M963.2,1850.4v3M753.6,1850.4v3M991.6,1850.4v3M781.9,1850.4v3M1019.9,1850.4v3M810.2,1850.4v3M1048.2,1850.4v3M838.6,1850.4v3M1076.6,1850.4v3M867.0,1850.4v3M1105.0,1850.4v3M895.3,1850.4v3M1133.3,1850.4v3M717.9,1653.7h-3M955.3,1653.7h-3M717.9,1685.2h-3M955.3,1685.2h-3M717.9,1716.6h-3M955.3,1716.6h-3M717.9,1748.0h-3M955.3,1748.0h-3M717.9,1779.5h-3M955.3,1779.5h-3M717.9,1811.0h-3M955.3,1811.0h-3M717.9,1842.4h-3M955.3,1842.4h-3" stroke="#333" stroke-width="0.8" fill="none"/>
<text x="817.80" y="1883.60" font-size="10.95" text-anchor="middle" fill="#111">12h old IR Data</text>
<text x="1055.90" y="1883.60" font-size="11.04" text-anchor="middle" fill="#111">SHAP Value=2.26 kts</text>
<use href="#ir4" transform="translate(717.9,1887.7)"/>
<use href="#sh4" transform="translate(955.3,1887.7)"/>
<rect x="717.90" y="1887.70" width="200.60" height="200.00" fill="none" stroke="#333" stroke-width="0.9"/>
<rect x="955.30" y="1887.70" width="200.60" height="200.00" fill="none" stroke="#333" stroke-width="0.9"/>
<text x="723.50" y="2100.30" font-size="9.86" text-anchor="middle" fill="#111">142</text>
<text x="752.05" y="2100.30" font-size="9.86" text-anchor="middle" fill="#111">143</text>
<text x="780.60" y="2100.30" font-size="9.86" text-anchor="middle" fill="#111">144</text>
<text x="809.15" y="2100.30" font-size="9.86" text-anchor="middle" fill="#111">145</text>
<text x="837.70" y="2100.30" font-size="9.86" text-anchor="middle" fill="#111">146</text>
<text x="866.25" y="2100.30" font-size="9.86" text-anchor="middle" fill="#111">147</text>
<text x="894.80" y="2100.30" font-size="9.86" text-anchor="middle" fill="#111">148</text>
<text x="711.60" y="1903.90" font-size="9.86" text-anchor="end" fill="#111">27</text>
<text x="711.60" y="1935.30" font-size="9.86" text-anchor="end" fill="#111">26</text>
<text x="711.60" y="1966.70" font-size="9.86" text-anchor="end" fill="#111">25</text>
<text x="711.60" y="1998.10" font-size="9.86" text-anchor="end" fill="#111">24</text>
<text x="711.60" y="2029.50" font-size="9.86" text-anchor="end" fill="#111">23</text>
<text x="711.60" y="2060.90" font-size="9.86" text-anchor="end" fill="#111">22</text>
<path d="M723.5,2087.7v3M961.5,2087.7v3M752.0,2087.7v3M990.0,2087.7v3M780.6,2087.7v3M1018.6,2087.7v3M809.1,2087.7v3M1047.2,2087.7v3M837.7,2087.7v3M1075.7,2087.7v3M866.2,2087.7v3M1104.2,2087.7v3M894.8,2087.7v3M1132.8,2087.7v3M717.9,1900.3h-3M955.3,1900.3h-3M717.9,1931.7h-3M955.3,1931.7h-3M717.9,1963.1h-3M955.3,1963.1h-3M717.9,1994.5h-3M955.3,1994.5h-3M717.9,2025.9h-3M955.3,2025.9h-3M717.9,2057.3h-3M955.3,2057.3h-3" stroke="#333" stroke-width="0.8" fill="none"/>
<linearGradient id="cbir" x1="0" x2="1" y1="0" y2="0"><stop offset="0" stop-color="#7a007a"/><stop offset="0.0769" stop-color="#ff00ff"/><stop offset="0.0770" stop-color="#ffffff"/><stop offset="0.1538" stop-color="#000000"/><stop offset="0.2692" stop-color="#ff0000"/><stop offset="0.3846" stop-color="#ffff00"/><stop offset="0.5" stop-color="#00ff00"/><stop offset="0.5538" stop-color="#007850"/><stop offset="0.6154" stop-color="#0000ff"/><stop offset="0.7231" stop-color="#00ffff"/><stop offset="0.7232" stop-color="#ffffff"/><stop offset="1" stop-color="#000000"/></linearGradient>
<rect x="717.90" y="2125.70" width="200.60" height="12.10" fill="url(#cbir)" stroke="#333" stroke-width="0.8"/>
<text x="818.20" y="2122.00" font-size="9.67" text-anchor="middle" fill="#111">Brightness Temperature [K]</text>
<line x1="718.10" y1="2137.80" x2="718.10" y2="2140.40" stroke="#333" stroke-width="0.8"/>
<text x="718.10" y="2148.30" font-size="6.35" text-anchor="middle" fill="#111">180</text>
<line x1="748.92" y1="2137.80" x2="748.92" y2="2140.40" stroke="#333" stroke-width="0.8"/>
<text x="748.92" y="2148.30" font-size="6.35" text-anchor="middle" fill="#111">200</text>
<line x1="779.74" y1="2137.80" x2="779.74" y2="2140.40" stroke="#333" stroke-width="0.8"/>
<text x="779.74" y="2148.30" font-size="6.35" text-anchor="middle" fill="#111">220</text>
<line x1="810.56" y1="2137.80" x2="810.56" y2="2140.40" stroke="#333" stroke-width="0.8"/>
<text x="810.56" y="2148.30" font-size="6.35" text-anchor="middle" fill="#111">240</text>
<line x1="841.38" y1="2137.80" x2="841.38" y2="2140.40" stroke="#333" stroke-width="0.8"/>
<text x="841.38" y="2148.30" font-size="6.35" text-anchor="middle" fill="#111">260</text>
<line x1="872.20" y1="2137.80" x2="872.20" y2="2140.40" stroke="#333" stroke-width="0.8"/>
<text x="872.20" y="2148.30" font-size="6.35" text-anchor="middle" fill="#111">280</text>
<line x1="903.02" y1="2137.80" x2="903.02" y2="2140.40" stroke="#333" stroke-width="0.8"/>
<text x="903.02" y="2148.30" font-size="6.35" text-anchor="middle" fill="#111">300</text>
<linearGradient id="cbsh" x1="0" x2="1" y1="0" y2="0"><stop offset="0" stop-color="#00004c"/><stop offset="0.25" stop-color="#0000ff"/><stop offset="0.5" stop-color="#ffffff"/><stop offset="0.75" stop-color="#ff0000"/><stop offset="1" stop-color="#800000"/></linearGradient>
<rect x="955.30" y="2125.70" width="200.60" height="12.10" fill="url(#cbsh)" stroke="#333" stroke-width="0.8"/>
<text x="1055.20" y="2122.00" font-size="9.68" text-anchor="middle" fill="#111">SHAP Values</text>
<line x1="964.50" y1="2137.80" x2="964.50" y2="2140.60" stroke="#333" stroke-width="0.8"/>
<text x="964.50" y="2150.40" font-size="9.06" text-anchor="middle" fill="#111">−0.2</text>
<line x1="1010.00" y1="2137.80" x2="1010.00" y2="2140.60" stroke="#333" stroke-width="0.8"/>
<text x="1010.00" y="2150.40" font-size="9.06" text-anchor="middle" fill="#111">−0.1</text>
<line x1="1055.50" y1="2137.80" x2="1055.50" y2="2140.60" stroke="#333" stroke-width="0.8"/>
<text x="1055.50" y="2150.40" font-size="9.06" text-anchor="middle" fill="#111">0.0</text>
<line x1="1101.00" y1="2137.80" x2="1101.00" y2="2140.60" stroke="#333" stroke-width="0.8"/>
<text x="1101.00" y="2150.40" font-size="9.06" text-anchor="middle" fill="#111">0.1</text>
<line x1="1146.50" y1="2137.80" x2="1146.50" y2="2140.60" stroke="#333" stroke-width="0.8"/>
<text x="1146.50" y="2150.40" font-size="9.06" text-anchor="middle" fill="#111">0.2</text>
</svg>
</body></html>
